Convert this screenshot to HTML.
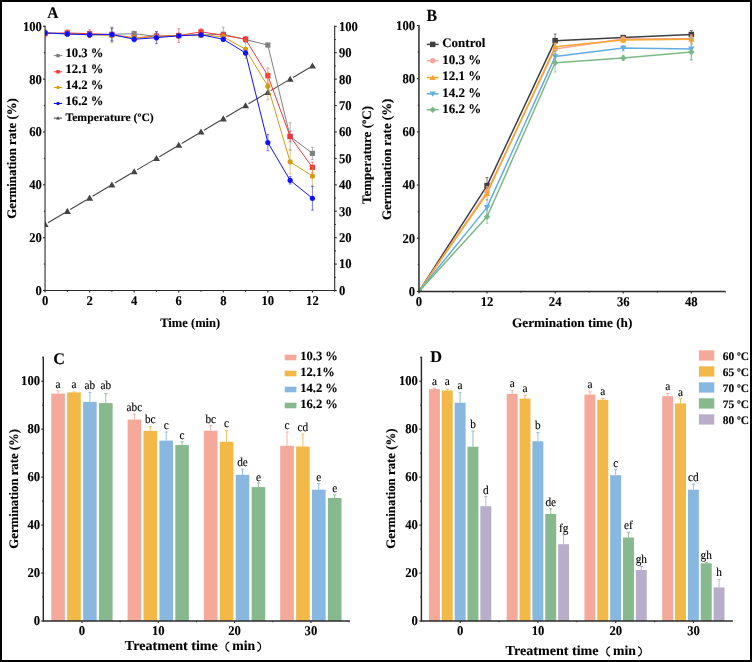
<!DOCTYPE html>
<html><head><meta charset="utf-8"><title>Figure</title>
<style>html,body{margin:0;padding:0;background:#fff;}body{width:752px;height:662px;overflow:hidden;font-family:"Liberation Serif",serif;}</style></head>
<body>
<svg width="752" height="662" viewBox="0 0 752 662" font-family="'Liberation Serif', serif" text-rendering="geometricPrecision" style="display:block;will-change:transform">
<rect x="0" y="0" width="752" height="662" fill="#000"/>
<rect x="2" y="2" width="748" height="658" fill="#fff"/>
<defs><clipPath id="clipA"><rect x="45.05" y="0" width="289.64" height="290.50"/></clipPath></defs>
<g clip-path="url(#clipA)">
<line x1="47.97" y1="222.72" x2="64.41" y2="212.97" stroke="#454545" stroke-width="1.1" />
<line x1="70.25" y1="209.51" x2="86.69" y2="199.76" stroke="#454545" stroke-width="1.1" />
<line x1="92.53" y1="196.30" x2="108.97" y2="186.55" stroke="#454545" stroke-width="1.1" />
<line x1="114.81" y1="183.09" x2="131.25" y2="173.34" stroke="#454545" stroke-width="1.1" />
<line x1="137.09" y1="169.88" x2="153.53" y2="160.13" stroke="#454545" stroke-width="1.1" />
<line x1="159.37" y1="156.67" x2="175.81" y2="146.92" stroke="#454545" stroke-width="1.1" />
<line x1="181.65" y1="143.46" x2="198.09" y2="133.71" stroke="#454545" stroke-width="1.1" />
<line x1="203.93" y1="130.25" x2="220.37" y2="120.50" stroke="#454545" stroke-width="1.1" />
<line x1="226.21" y1="117.04" x2="242.65" y2="107.29" stroke="#454545" stroke-width="1.1" />
<line x1="248.49" y1="103.83" x2="264.93" y2="94.08" stroke="#454545" stroke-width="1.1" />
<line x1="270.77" y1="90.62" x2="287.21" y2="80.87" stroke="#454545" stroke-width="1.1" />
<line x1="293.05" y1="77.41" x2="309.49" y2="67.66" stroke="#454545" stroke-width="1.1" />
<polygon points="45.05,221.04 48.61,227.08 41.48,227.08" fill="#454545"/>
<polygon points="67.33,207.83 70.89,213.88 63.77,213.88" fill="#454545"/>
<polygon points="89.61,194.62 93.17,200.66 86.05,200.66" fill="#454545"/>
<polygon points="111.89,181.41 115.45,187.45 108.33,187.45" fill="#454545"/>
<polygon points="134.17,168.20 137.74,174.25 130.61,174.25" fill="#454545"/>
<polygon points="156.45,154.99 160.01,161.03 152.88,161.03" fill="#454545"/>
<polygon points="178.73,141.78 182.30,147.82 175.17,147.82" fill="#454545"/>
<polygon points="201.01,128.57 204.57,134.62 197.44,134.62" fill="#454545"/>
<polygon points="223.29,115.36 226.86,121.41 219.73,121.41" fill="#454545"/>
<polygon points="245.57,102.15 249.13,108.20 242.00,108.20" fill="#454545"/>
<polygon points="267.85,88.94 271.42,94.98 264.29,94.98" fill="#454545"/>
<polygon points="290.13,75.73 293.69,81.78 286.56,81.78" fill="#454545"/>
<polygon points="312.41,62.52 315.98,68.57 308.85,68.57" fill="#454545"/>
<line x1="45.05" y1="31.58" x2="45.05" y2="34.23" stroke="#808080" stroke-width="0.8" stroke-opacity="0.7"/>
<line x1="43.65" y1="31.58" x2="46.45" y2="31.58" stroke="#808080" stroke-width="0.8" stroke-opacity="0.7"/>
<line x1="43.65" y1="34.23" x2="46.45" y2="34.23" stroke="#808080" stroke-width="0.8" stroke-opacity="0.7"/>
<line x1="67.33" y1="32.11" x2="67.33" y2="34.75" stroke="#808080" stroke-width="0.8" stroke-opacity="0.7"/>
<line x1="65.93" y1="32.11" x2="68.73" y2="32.11" stroke="#808080" stroke-width="0.8" stroke-opacity="0.7"/>
<line x1="65.93" y1="34.75" x2="68.73" y2="34.75" stroke="#808080" stroke-width="0.8" stroke-opacity="0.7"/>
<line x1="89.61" y1="32.11" x2="89.61" y2="36.34" stroke="#808080" stroke-width="0.8" stroke-opacity="0.7"/>
<line x1="88.21" y1="32.11" x2="91.01" y2="32.11" stroke="#808080" stroke-width="0.8" stroke-opacity="0.7"/>
<line x1="88.21" y1="36.34" x2="91.01" y2="36.34" stroke="#808080" stroke-width="0.8" stroke-opacity="0.7"/>
<line x1="111.89" y1="27.09" x2="111.89" y2="41.36" stroke="#808080" stroke-width="0.8" stroke-opacity="0.7"/>
<line x1="110.49" y1="27.09" x2="113.29" y2="27.09" stroke="#808080" stroke-width="0.8" stroke-opacity="0.7"/>
<line x1="110.49" y1="41.36" x2="113.29" y2="41.36" stroke="#808080" stroke-width="0.8" stroke-opacity="0.7"/>
<line x1="134.17" y1="31.06" x2="134.17" y2="36.34" stroke="#808080" stroke-width="0.8" stroke-opacity="0.7"/>
<line x1="132.77" y1="31.06" x2="135.57" y2="31.06" stroke="#808080" stroke-width="0.8" stroke-opacity="0.7"/>
<line x1="132.77" y1="36.34" x2="135.57" y2="36.34" stroke="#808080" stroke-width="0.8" stroke-opacity="0.7"/>
<line x1="156.45" y1="33.70" x2="156.45" y2="38.98" stroke="#808080" stroke-width="0.8" stroke-opacity="0.7"/>
<line x1="155.05" y1="33.70" x2="157.85" y2="33.70" stroke="#808080" stroke-width="0.8" stroke-opacity="0.7"/>
<line x1="155.05" y1="38.98" x2="157.85" y2="38.98" stroke="#808080" stroke-width="0.8" stroke-opacity="0.7"/>
<line x1="178.73" y1="32.91" x2="178.73" y2="38.19" stroke="#808080" stroke-width="0.8" stroke-opacity="0.7"/>
<line x1="177.33" y1="32.91" x2="180.13" y2="32.91" stroke="#808080" stroke-width="0.8" stroke-opacity="0.7"/>
<line x1="177.33" y1="38.19" x2="180.13" y2="38.19" stroke="#808080" stroke-width="0.8" stroke-opacity="0.7"/>
<line x1="201.01" y1="32.38" x2="201.01" y2="37.66" stroke="#808080" stroke-width="0.8" stroke-opacity="0.7"/>
<line x1="199.61" y1="32.38" x2="202.41" y2="32.38" stroke="#808080" stroke-width="0.8" stroke-opacity="0.7"/>
<line x1="199.61" y1="37.66" x2="202.41" y2="37.66" stroke="#808080" stroke-width="0.8" stroke-opacity="0.7"/>
<line x1="223.29" y1="27.09" x2="223.29" y2="41.36" stroke="#808080" stroke-width="0.8" stroke-opacity="0.7"/>
<line x1="221.89" y1="27.09" x2="224.69" y2="27.09" stroke="#808080" stroke-width="0.8" stroke-opacity="0.7"/>
<line x1="221.89" y1="41.36" x2="224.69" y2="41.36" stroke="#808080" stroke-width="0.8" stroke-opacity="0.7"/>
<line x1="245.57" y1="36.87" x2="245.57" y2="42.15" stroke="#808080" stroke-width="0.8" stroke-opacity="0.7"/>
<line x1="244.17" y1="36.87" x2="246.97" y2="36.87" stroke="#808080" stroke-width="0.8" stroke-opacity="0.7"/>
<line x1="244.17" y1="42.15" x2="246.97" y2="42.15" stroke="#808080" stroke-width="0.8" stroke-opacity="0.7"/>
<line x1="267.85" y1="43.74" x2="267.85" y2="46.38" stroke="#808080" stroke-width="0.8" stroke-opacity="0.7"/>
<line x1="266.45" y1="43.74" x2="269.25" y2="43.74" stroke="#808080" stroke-width="0.8" stroke-opacity="0.7"/>
<line x1="266.45" y1="46.38" x2="269.25" y2="46.38" stroke="#808080" stroke-width="0.8" stroke-opacity="0.7"/>
<line x1="290.13" y1="122.73" x2="290.13" y2="150.21" stroke="#808080" stroke-width="0.8" stroke-opacity="0.7"/>
<line x1="288.73" y1="122.73" x2="291.53" y2="122.73" stroke="#808080" stroke-width="0.8" stroke-opacity="0.7"/>
<line x1="288.73" y1="150.21" x2="291.53" y2="150.21" stroke="#808080" stroke-width="0.8" stroke-opacity="0.7"/>
<line x1="312.41" y1="147.30" x2="312.41" y2="159.46" stroke="#808080" stroke-width="0.8" stroke-opacity="0.7"/>
<line x1="311.01" y1="147.30" x2="313.81" y2="147.30" stroke="#808080" stroke-width="0.8" stroke-opacity="0.7"/>
<line x1="311.01" y1="159.46" x2="313.81" y2="159.46" stroke="#808080" stroke-width="0.8" stroke-opacity="0.7"/>
<polyline points="45.05,32.91 67.33,33.43 89.61,34.23 111.89,34.23 134.17,33.70 156.45,36.34 178.73,35.55 201.01,35.02 223.29,34.23 245.57,39.51 267.85,45.06 290.13,136.47 312.41,153.38" fill="none" stroke="#808080" stroke-width="1.0" stroke-linejoin="round" />
<rect x="42.45" y="30.31" width="5.20" height="5.20" fill="#808080" />
<rect x="64.73" y="30.83" width="5.20" height="5.20" fill="#808080" />
<rect x="87.01" y="31.63" width="5.20" height="5.20" fill="#808080" />
<rect x="109.29" y="31.63" width="5.20" height="5.20" fill="#808080" />
<rect x="131.57" y="31.10" width="5.20" height="5.20" fill="#808080" />
<rect x="153.85" y="33.74" width="5.20" height="5.20" fill="#808080" />
<rect x="176.13" y="32.95" width="5.20" height="5.20" fill="#808080" />
<rect x="198.41" y="32.42" width="5.20" height="5.20" fill="#808080" />
<rect x="220.69" y="31.63" width="5.20" height="5.20" fill="#808080" />
<rect x="242.97" y="36.91" width="5.20" height="5.20" fill="#808080" />
<rect x="265.25" y="42.46" width="5.20" height="5.20" fill="#808080" />
<rect x="287.53" y="133.87" width="5.20" height="5.20" fill="#808080" />
<rect x="309.81" y="150.78" width="5.20" height="5.20" fill="#808080" />
<line x1="45.05" y1="29.73" x2="45.05" y2="37.66" stroke="#f0383c" stroke-width="0.8" stroke-opacity="0.7"/>
<line x1="43.65" y1="29.73" x2="46.45" y2="29.73" stroke="#f0383c" stroke-width="0.8" stroke-opacity="0.7"/>
<line x1="43.65" y1="37.66" x2="46.45" y2="37.66" stroke="#f0383c" stroke-width="0.8" stroke-opacity="0.7"/>
<line x1="67.33" y1="29.73" x2="67.33" y2="36.08" stroke="#f0383c" stroke-width="0.8" stroke-opacity="0.7"/>
<line x1="65.93" y1="29.73" x2="68.73" y2="29.73" stroke="#f0383c" stroke-width="0.8" stroke-opacity="0.7"/>
<line x1="65.93" y1="36.08" x2="68.73" y2="36.08" stroke="#f0383c" stroke-width="0.8" stroke-opacity="0.7"/>
<line x1="89.61" y1="29.73" x2="89.61" y2="37.66" stroke="#f0383c" stroke-width="0.8" stroke-opacity="0.7"/>
<line x1="88.21" y1="29.73" x2="91.01" y2="29.73" stroke="#f0383c" stroke-width="0.8" stroke-opacity="0.7"/>
<line x1="88.21" y1="37.66" x2="91.01" y2="37.66" stroke="#f0383c" stroke-width="0.8" stroke-opacity="0.7"/>
<line x1="111.89" y1="32.11" x2="111.89" y2="37.40" stroke="#f0383c" stroke-width="0.8" stroke-opacity="0.7"/>
<line x1="110.49" y1="32.11" x2="113.29" y2="32.11" stroke="#f0383c" stroke-width="0.8" stroke-opacity="0.7"/>
<line x1="110.49" y1="37.40" x2="113.29" y2="37.40" stroke="#f0383c" stroke-width="0.8" stroke-opacity="0.7"/>
<line x1="134.17" y1="35.28" x2="134.17" y2="40.57" stroke="#f0383c" stroke-width="0.8" stroke-opacity="0.7"/>
<line x1="132.77" y1="35.28" x2="135.57" y2="35.28" stroke="#f0383c" stroke-width="0.8" stroke-opacity="0.7"/>
<line x1="132.77" y1="40.57" x2="135.57" y2="40.57" stroke="#f0383c" stroke-width="0.8" stroke-opacity="0.7"/>
<line x1="156.45" y1="32.11" x2="156.45" y2="40.04" stroke="#f0383c" stroke-width="0.8" stroke-opacity="0.7"/>
<line x1="155.05" y1="32.11" x2="157.85" y2="32.11" stroke="#f0383c" stroke-width="0.8" stroke-opacity="0.7"/>
<line x1="155.05" y1="40.04" x2="157.85" y2="40.04" stroke="#f0383c" stroke-width="0.8" stroke-opacity="0.7"/>
<line x1="178.73" y1="28.68" x2="178.73" y2="42.42" stroke="#f0383c" stroke-width="0.8" stroke-opacity="0.7"/>
<line x1="177.33" y1="28.68" x2="180.13" y2="28.68" stroke="#f0383c" stroke-width="0.8" stroke-opacity="0.7"/>
<line x1="177.33" y1="42.42" x2="180.13" y2="42.42" stroke="#f0383c" stroke-width="0.8" stroke-opacity="0.7"/>
<line x1="201.01" y1="28.68" x2="201.01" y2="35.02" stroke="#f0383c" stroke-width="0.8" stroke-opacity="0.7"/>
<line x1="199.61" y1="28.68" x2="202.41" y2="28.68" stroke="#f0383c" stroke-width="0.8" stroke-opacity="0.7"/>
<line x1="199.61" y1="35.02" x2="202.41" y2="35.02" stroke="#f0383c" stroke-width="0.8" stroke-opacity="0.7"/>
<line x1="223.29" y1="32.64" x2="223.29" y2="37.92" stroke="#f0383c" stroke-width="0.8" stroke-opacity="0.7"/>
<line x1="221.89" y1="32.64" x2="224.69" y2="32.64" stroke="#f0383c" stroke-width="0.8" stroke-opacity="0.7"/>
<line x1="221.89" y1="37.92" x2="224.69" y2="37.92" stroke="#f0383c" stroke-width="0.8" stroke-opacity="0.7"/>
<line x1="245.57" y1="36.60" x2="245.57" y2="41.89" stroke="#f0383c" stroke-width="0.8" stroke-opacity="0.7"/>
<line x1="244.17" y1="36.60" x2="246.97" y2="36.60" stroke="#f0383c" stroke-width="0.8" stroke-opacity="0.7"/>
<line x1="244.17" y1="41.89" x2="246.97" y2="41.89" stroke="#f0383c" stroke-width="0.8" stroke-opacity="0.7"/>
<line x1="267.85" y1="68.04" x2="267.85" y2="83.37" stroke="#f0383c" stroke-width="0.8" stroke-opacity="0.7"/>
<line x1="266.45" y1="68.04" x2="269.25" y2="68.04" stroke="#f0383c" stroke-width="0.8" stroke-opacity="0.7"/>
<line x1="266.45" y1="83.37" x2="269.25" y2="83.37" stroke="#f0383c" stroke-width="0.8" stroke-opacity="0.7"/>
<line x1="290.13" y1="131.19" x2="290.13" y2="141.76" stroke="#f0383c" stroke-width="0.8" stroke-opacity="0.7"/>
<line x1="288.73" y1="131.19" x2="291.53" y2="131.19" stroke="#f0383c" stroke-width="0.8" stroke-opacity="0.7"/>
<line x1="288.73" y1="141.76" x2="291.53" y2="141.76" stroke="#f0383c" stroke-width="0.8" stroke-opacity="0.7"/>
<line x1="312.41" y1="162.10" x2="312.41" y2="172.67" stroke="#f0383c" stroke-width="0.8" stroke-opacity="0.7"/>
<line x1="311.01" y1="162.10" x2="313.81" y2="162.10" stroke="#f0383c" stroke-width="0.8" stroke-opacity="0.7"/>
<line x1="311.01" y1="172.67" x2="313.81" y2="172.67" stroke="#f0383c" stroke-width="0.8" stroke-opacity="0.7"/>
<polyline points="45.05,33.70 67.33,32.91 89.61,33.70 111.89,34.75 134.17,37.92 156.45,36.08 178.73,35.55 201.01,31.85 223.29,35.28 245.57,39.25 267.85,75.71 290.13,136.47 312.41,167.38" fill="none" stroke="#f0383c" stroke-width="1.0" stroke-linejoin="round" />
<rect x="42.45" y="31.10" width="5.20" height="5.20" fill="#f0383c" />
<rect x="64.73" y="30.31" width="5.20" height="5.20" fill="#f0383c" />
<rect x="87.01" y="31.10" width="5.20" height="5.20" fill="#f0383c" />
<rect x="109.29" y="32.15" width="5.20" height="5.20" fill="#f0383c" />
<rect x="131.57" y="35.32" width="5.20" height="5.20" fill="#f0383c" />
<rect x="153.85" y="33.48" width="5.20" height="5.20" fill="#f0383c" />
<rect x="176.13" y="32.95" width="5.20" height="5.20" fill="#f0383c" />
<rect x="198.41" y="29.25" width="5.20" height="5.20" fill="#f0383c" />
<rect x="220.69" y="32.68" width="5.20" height="5.20" fill="#f0383c" />
<rect x="242.97" y="36.65" width="5.20" height="5.20" fill="#f0383c" />
<rect x="265.25" y="73.11" width="5.20" height="5.20" fill="#f0383c" />
<rect x="287.53" y="133.87" width="5.20" height="5.20" fill="#f0383c" />
<rect x="309.81" y="164.78" width="5.20" height="5.20" fill="#f0383c" />
<line x1="45.05" y1="31.58" x2="45.05" y2="34.23" stroke="#d49a12" stroke-width="0.8" stroke-opacity="0.7"/>
<line x1="43.65" y1="31.58" x2="46.45" y2="31.58" stroke="#d49a12" stroke-width="0.8" stroke-opacity="0.7"/>
<line x1="43.65" y1="34.23" x2="46.45" y2="34.23" stroke="#d49a12" stroke-width="0.8" stroke-opacity="0.7"/>
<line x1="67.33" y1="32.64" x2="67.33" y2="35.28" stroke="#d49a12" stroke-width="0.8" stroke-opacity="0.7"/>
<line x1="65.93" y1="32.64" x2="68.73" y2="32.64" stroke="#d49a12" stroke-width="0.8" stroke-opacity="0.7"/>
<line x1="65.93" y1="35.28" x2="68.73" y2="35.28" stroke="#d49a12" stroke-width="0.8" stroke-opacity="0.7"/>
<line x1="89.61" y1="32.11" x2="89.61" y2="37.40" stroke="#d49a12" stroke-width="0.8" stroke-opacity="0.7"/>
<line x1="88.21" y1="32.11" x2="91.01" y2="32.11" stroke="#d49a12" stroke-width="0.8" stroke-opacity="0.7"/>
<line x1="88.21" y1="37.40" x2="91.01" y2="37.40" stroke="#d49a12" stroke-width="0.8" stroke-opacity="0.7"/>
<line x1="111.89" y1="27.89" x2="111.89" y2="42.68" stroke="#d49a12" stroke-width="0.8" stroke-opacity="0.7"/>
<line x1="110.49" y1="27.89" x2="113.29" y2="27.89" stroke="#d49a12" stroke-width="0.8" stroke-opacity="0.7"/>
<line x1="110.49" y1="42.68" x2="113.29" y2="42.68" stroke="#d49a12" stroke-width="0.8" stroke-opacity="0.7"/>
<line x1="134.17" y1="35.28" x2="134.17" y2="40.57" stroke="#d49a12" stroke-width="0.8" stroke-opacity="0.7"/>
<line x1="132.77" y1="35.28" x2="135.57" y2="35.28" stroke="#d49a12" stroke-width="0.8" stroke-opacity="0.7"/>
<line x1="132.77" y1="40.57" x2="135.57" y2="40.57" stroke="#d49a12" stroke-width="0.8" stroke-opacity="0.7"/>
<line x1="156.45" y1="33.96" x2="156.45" y2="39.25" stroke="#d49a12" stroke-width="0.8" stroke-opacity="0.7"/>
<line x1="155.05" y1="33.96" x2="157.85" y2="33.96" stroke="#d49a12" stroke-width="0.8" stroke-opacity="0.7"/>
<line x1="155.05" y1="39.25" x2="157.85" y2="39.25" stroke="#d49a12" stroke-width="0.8" stroke-opacity="0.7"/>
<line x1="178.73" y1="34.23" x2="178.73" y2="36.87" stroke="#d49a12" stroke-width="0.8" stroke-opacity="0.7"/>
<line x1="177.33" y1="34.23" x2="180.13" y2="34.23" stroke="#d49a12" stroke-width="0.8" stroke-opacity="0.7"/>
<line x1="177.33" y1="36.87" x2="180.13" y2="36.87" stroke="#d49a12" stroke-width="0.8" stroke-opacity="0.7"/>
<line x1="201.01" y1="32.11" x2="201.01" y2="37.40" stroke="#d49a12" stroke-width="0.8" stroke-opacity="0.7"/>
<line x1="199.61" y1="32.11" x2="202.41" y2="32.11" stroke="#d49a12" stroke-width="0.8" stroke-opacity="0.7"/>
<line x1="199.61" y1="37.40" x2="202.41" y2="37.40" stroke="#d49a12" stroke-width="0.8" stroke-opacity="0.7"/>
<line x1="223.29" y1="34.23" x2="223.29" y2="39.51" stroke="#d49a12" stroke-width="0.8" stroke-opacity="0.7"/>
<line x1="221.89" y1="34.23" x2="224.69" y2="34.23" stroke="#d49a12" stroke-width="0.8" stroke-opacity="0.7"/>
<line x1="221.89" y1="39.51" x2="224.69" y2="39.51" stroke="#d49a12" stroke-width="0.8" stroke-opacity="0.7"/>
<line x1="245.57" y1="40.04" x2="245.57" y2="58.53" stroke="#d49a12" stroke-width="0.8" stroke-opacity="0.7"/>
<line x1="244.17" y1="40.04" x2="246.97" y2="40.04" stroke="#d49a12" stroke-width="0.8" stroke-opacity="0.7"/>
<line x1="244.17" y1="58.53" x2="246.97" y2="58.53" stroke="#d49a12" stroke-width="0.8" stroke-opacity="0.7"/>
<line x1="267.85" y1="72.80" x2="267.85" y2="99.75" stroke="#d49a12" stroke-width="0.8" stroke-opacity="0.7"/>
<line x1="266.45" y1="72.80" x2="269.25" y2="72.80" stroke="#d49a12" stroke-width="0.8" stroke-opacity="0.7"/>
<line x1="266.45" y1="99.75" x2="269.25" y2="99.75" stroke="#d49a12" stroke-width="0.8" stroke-opacity="0.7"/>
<line x1="290.13" y1="149.68" x2="290.13" y2="173.99" stroke="#d49a12" stroke-width="0.8" stroke-opacity="0.7"/>
<line x1="288.73" y1="149.68" x2="291.53" y2="149.68" stroke="#d49a12" stroke-width="0.8" stroke-opacity="0.7"/>
<line x1="288.73" y1="173.99" x2="291.53" y2="173.99" stroke="#d49a12" stroke-width="0.8" stroke-opacity="0.7"/>
<line x1="312.41" y1="166.59" x2="312.41" y2="185.61" stroke="#d49a12" stroke-width="0.8" stroke-opacity="0.7"/>
<line x1="311.01" y1="166.59" x2="313.81" y2="166.59" stroke="#d49a12" stroke-width="0.8" stroke-opacity="0.7"/>
<line x1="311.01" y1="185.61" x2="313.81" y2="185.61" stroke="#d49a12" stroke-width="0.8" stroke-opacity="0.7"/>
<polyline points="45.05,32.91 67.33,33.96 89.61,34.75 111.89,35.28 134.17,37.92 156.45,36.60 178.73,35.55 201.01,34.75 223.29,36.87 245.57,49.29 267.85,86.27 290.13,161.83 312.41,176.10" fill="none" stroke="#d49a12" stroke-width="1.0" stroke-linejoin="round" />
<circle cx="45.05" cy="32.91" r="2.60" fill="#d49a12"/>
<circle cx="67.33" cy="33.96" r="2.60" fill="#d49a12"/>
<circle cx="89.61" cy="34.75" r="2.60" fill="#d49a12"/>
<circle cx="111.89" cy="35.28" r="2.60" fill="#d49a12"/>
<circle cx="134.17" cy="37.92" r="2.60" fill="#d49a12"/>
<circle cx="156.45" cy="36.60" r="2.60" fill="#d49a12"/>
<circle cx="178.73" cy="35.55" r="2.60" fill="#d49a12"/>
<circle cx="201.01" cy="34.75" r="2.60" fill="#d49a12"/>
<circle cx="223.29" cy="36.87" r="2.60" fill="#d49a12"/>
<circle cx="245.57" cy="49.29" r="2.60" fill="#d49a12"/>
<circle cx="267.85" cy="86.27" r="2.60" fill="#d49a12"/>
<circle cx="290.13" cy="161.83" r="2.60" fill="#d49a12"/>
<circle cx="312.41" cy="176.10" r="2.60" fill="#d49a12"/>
<line x1="45.05" y1="31.58" x2="45.05" y2="34.23" stroke="#1010ff" stroke-width="0.8" stroke-opacity="0.7"/>
<line x1="43.65" y1="31.58" x2="46.45" y2="31.58" stroke="#1010ff" stroke-width="0.8" stroke-opacity="0.7"/>
<line x1="43.65" y1="34.23" x2="46.45" y2="34.23" stroke="#1010ff" stroke-width="0.8" stroke-opacity="0.7"/>
<line x1="67.33" y1="31.85" x2="67.33" y2="36.08" stroke="#1010ff" stroke-width="0.8" stroke-opacity="0.7"/>
<line x1="65.93" y1="31.85" x2="68.73" y2="31.85" stroke="#1010ff" stroke-width="0.8" stroke-opacity="0.7"/>
<line x1="65.93" y1="36.08" x2="68.73" y2="36.08" stroke="#1010ff" stroke-width="0.8" stroke-opacity="0.7"/>
<line x1="89.61" y1="32.11" x2="89.61" y2="37.40" stroke="#1010ff" stroke-width="0.8" stroke-opacity="0.7"/>
<line x1="88.21" y1="32.11" x2="91.01" y2="32.11" stroke="#1010ff" stroke-width="0.8" stroke-opacity="0.7"/>
<line x1="88.21" y1="37.40" x2="91.01" y2="37.40" stroke="#1010ff" stroke-width="0.8" stroke-opacity="0.7"/>
<line x1="111.89" y1="28.15" x2="111.89" y2="40.83" stroke="#1010ff" stroke-width="0.8" stroke-opacity="0.7"/>
<line x1="110.49" y1="28.15" x2="113.29" y2="28.15" stroke="#1010ff" stroke-width="0.8" stroke-opacity="0.7"/>
<line x1="110.49" y1="40.83" x2="113.29" y2="40.83" stroke="#1010ff" stroke-width="0.8" stroke-opacity="0.7"/>
<line x1="134.17" y1="36.60" x2="134.17" y2="41.89" stroke="#1010ff" stroke-width="0.8" stroke-opacity="0.7"/>
<line x1="132.77" y1="36.60" x2="135.57" y2="36.60" stroke="#1010ff" stroke-width="0.8" stroke-opacity="0.7"/>
<line x1="132.77" y1="41.89" x2="135.57" y2="41.89" stroke="#1010ff" stroke-width="0.8" stroke-opacity="0.7"/>
<line x1="156.45" y1="31.58" x2="156.45" y2="43.74" stroke="#1010ff" stroke-width="0.8" stroke-opacity="0.7"/>
<line x1="155.05" y1="31.58" x2="157.85" y2="31.58" stroke="#1010ff" stroke-width="0.8" stroke-opacity="0.7"/>
<line x1="155.05" y1="43.74" x2="157.85" y2="43.74" stroke="#1010ff" stroke-width="0.8" stroke-opacity="0.7"/>
<line x1="178.73" y1="34.49" x2="178.73" y2="37.13" stroke="#1010ff" stroke-width="0.8" stroke-opacity="0.7"/>
<line x1="177.33" y1="34.49" x2="180.13" y2="34.49" stroke="#1010ff" stroke-width="0.8" stroke-opacity="0.7"/>
<line x1="177.33" y1="37.13" x2="180.13" y2="37.13" stroke="#1010ff" stroke-width="0.8" stroke-opacity="0.7"/>
<line x1="201.01" y1="32.64" x2="201.01" y2="36.87" stroke="#1010ff" stroke-width="0.8" stroke-opacity="0.7"/>
<line x1="199.61" y1="32.64" x2="202.41" y2="32.64" stroke="#1010ff" stroke-width="0.8" stroke-opacity="0.7"/>
<line x1="199.61" y1="36.87" x2="202.41" y2="36.87" stroke="#1010ff" stroke-width="0.8" stroke-opacity="0.7"/>
<line x1="223.29" y1="37.13" x2="223.29" y2="41.36" stroke="#1010ff" stroke-width="0.8" stroke-opacity="0.7"/>
<line x1="221.89" y1="37.13" x2="224.69" y2="37.13" stroke="#1010ff" stroke-width="0.8" stroke-opacity="0.7"/>
<line x1="221.89" y1="41.36" x2="224.69" y2="41.36" stroke="#1010ff" stroke-width="0.8" stroke-opacity="0.7"/>
<line x1="245.57" y1="50.87" x2="245.57" y2="55.10" stroke="#1010ff" stroke-width="0.8" stroke-opacity="0.7"/>
<line x1="244.17" y1="50.87" x2="246.97" y2="50.87" stroke="#1010ff" stroke-width="0.8" stroke-opacity="0.7"/>
<line x1="244.17" y1="55.10" x2="246.97" y2="55.10" stroke="#1010ff" stroke-width="0.8" stroke-opacity="0.7"/>
<line x1="267.85" y1="134.36" x2="267.85" y2="150.74" stroke="#1010ff" stroke-width="0.8" stroke-opacity="0.7"/>
<line x1="266.45" y1="134.36" x2="269.25" y2="134.36" stroke="#1010ff" stroke-width="0.8" stroke-opacity="0.7"/>
<line x1="266.45" y1="150.74" x2="269.25" y2="150.74" stroke="#1010ff" stroke-width="0.8" stroke-opacity="0.7"/>
<line x1="290.13" y1="176.63" x2="290.13" y2="184.03" stroke="#1010ff" stroke-width="0.8" stroke-opacity="0.7"/>
<line x1="288.73" y1="176.63" x2="291.53" y2="176.63" stroke="#1010ff" stroke-width="0.8" stroke-opacity="0.7"/>
<line x1="288.73" y1="184.03" x2="291.53" y2="184.03" stroke="#1010ff" stroke-width="0.8" stroke-opacity="0.7"/>
<line x1="312.41" y1="186.41" x2="312.41" y2="210.18" stroke="#1010ff" stroke-width="0.8" stroke-opacity="0.7"/>
<line x1="311.01" y1="186.41" x2="313.81" y2="186.41" stroke="#1010ff" stroke-width="0.8" stroke-opacity="0.7"/>
<line x1="311.01" y1="210.18" x2="313.81" y2="210.18" stroke="#1010ff" stroke-width="0.8" stroke-opacity="0.7"/>
<polyline points="45.05,32.91 67.33,33.96 89.61,34.75 111.89,34.49 134.17,39.25 156.45,37.66 178.73,35.81 201.01,34.75 223.29,39.25 245.57,52.98 267.85,142.55 290.13,180.33 312.41,198.29" fill="none" stroke="#1010ff" stroke-width="1.0" stroke-linejoin="round" />
<circle cx="45.05" cy="32.91" r="2.60" fill="#1010ff"/>
<circle cx="67.33" cy="33.96" r="2.60" fill="#1010ff"/>
<circle cx="89.61" cy="34.75" r="2.60" fill="#1010ff"/>
<circle cx="111.89" cy="34.49" r="2.60" fill="#1010ff"/>
<circle cx="134.17" cy="39.25" r="2.60" fill="#1010ff"/>
<circle cx="156.45" cy="37.66" r="2.60" fill="#1010ff"/>
<circle cx="178.73" cy="35.81" r="2.60" fill="#1010ff"/>
<circle cx="201.01" cy="34.75" r="2.60" fill="#1010ff"/>
<circle cx="223.29" cy="39.25" r="2.60" fill="#1010ff"/>
<circle cx="245.57" cy="52.98" r="2.60" fill="#1010ff"/>
<circle cx="267.85" cy="142.55" r="2.60" fill="#1010ff"/>
<circle cx="290.13" cy="180.33" r="2.60" fill="#1010ff"/>
<circle cx="312.41" cy="198.29" r="2.60" fill="#1010ff"/>
</g>
<line x1="45.05" y1="25.80" x2="45.05" y2="291.05" stroke="#2a2a2a" stroke-width="1.1" />
<line x1="45.05" y1="290.50" x2="334.69" y2="290.50" stroke="#2a2a2a" stroke-width="1.1" />
<line x1="334.69" y1="25.80" x2="334.69" y2="291.05" stroke="#2a2a2a" stroke-width="1.1" />
<line x1="42.95" y1="290.50" x2="45.05" y2="290.50" stroke="#2a2a2a" stroke-width="1.1" />
<text transform="translate(41.90 294.90) scale(0.945 1)" font-size="13.4" font-weight="bold" text-anchor="end" fill="#000" stroke="#000" stroke-width="0.12" >0</text>
<line x1="43.85" y1="264.08" x2="45.05" y2="264.08" stroke="#2a2a2a" stroke-width="1.1" />
<line x1="42.95" y1="237.66" x2="45.05" y2="237.66" stroke="#2a2a2a" stroke-width="1.1" />
<text transform="translate(41.90 242.06) scale(0.945 1)" font-size="13.4" font-weight="bold" text-anchor="end" fill="#000" stroke="#000" stroke-width="0.12" >20</text>
<line x1="43.85" y1="211.24" x2="45.05" y2="211.24" stroke="#2a2a2a" stroke-width="1.1" />
<line x1="42.95" y1="184.82" x2="45.05" y2="184.82" stroke="#2a2a2a" stroke-width="1.1" />
<text transform="translate(41.90 189.22) scale(0.945 1)" font-size="13.4" font-weight="bold" text-anchor="end" fill="#000" stroke="#000" stroke-width="0.12" >40</text>
<line x1="43.85" y1="158.40" x2="45.05" y2="158.40" stroke="#2a2a2a" stroke-width="1.1" />
<line x1="42.95" y1="131.98" x2="45.05" y2="131.98" stroke="#2a2a2a" stroke-width="1.1" />
<text transform="translate(41.90 136.38) scale(0.945 1)" font-size="13.4" font-weight="bold" text-anchor="end" fill="#000" stroke="#000" stroke-width="0.12" >60</text>
<line x1="43.85" y1="105.56" x2="45.05" y2="105.56" stroke="#2a2a2a" stroke-width="1.1" />
<line x1="42.95" y1="79.14" x2="45.05" y2="79.14" stroke="#2a2a2a" stroke-width="1.1" />
<text transform="translate(41.90 83.54) scale(0.945 1)" font-size="13.4" font-weight="bold" text-anchor="end" fill="#000" stroke="#000" stroke-width="0.12" >80</text>
<line x1="43.85" y1="52.72" x2="45.05" y2="52.72" stroke="#2a2a2a" stroke-width="1.1" />
<line x1="42.95" y1="26.30" x2="45.05" y2="26.30" stroke="#2a2a2a" stroke-width="1.1" />
<text transform="translate(41.90 30.70) scale(0.945 1)" font-size="13.4" font-weight="bold" text-anchor="end" fill="#000" stroke="#000" stroke-width="0.12" >100</text>
<line x1="334.69" y1="290.50" x2="336.79" y2="290.50" stroke="#2a2a2a" stroke-width="1.1" />
<text transform="translate(338.90 294.90) scale(0.945 1)" font-size="13.4" font-weight="bold" text-anchor="start" fill="#000" stroke="#000" stroke-width="0.12" >0</text>
<line x1="334.69" y1="277.29" x2="335.89" y2="277.29" stroke="#2a2a2a" stroke-width="1.1" />
<line x1="334.69" y1="264.08" x2="336.79" y2="264.08" stroke="#2a2a2a" stroke-width="1.1" />
<text transform="translate(338.90 268.48) scale(0.945 1)" font-size="13.4" font-weight="bold" text-anchor="start" fill="#000" stroke="#000" stroke-width="0.12" >10</text>
<line x1="334.69" y1="250.87" x2="335.89" y2="250.87" stroke="#2a2a2a" stroke-width="1.1" />
<line x1="334.69" y1="237.66" x2="336.79" y2="237.66" stroke="#2a2a2a" stroke-width="1.1" />
<text transform="translate(338.90 242.06) scale(0.945 1)" font-size="13.4" font-weight="bold" text-anchor="start" fill="#000" stroke="#000" stroke-width="0.12" >20</text>
<line x1="334.69" y1="224.45" x2="335.89" y2="224.45" stroke="#2a2a2a" stroke-width="1.1" />
<line x1="334.69" y1="211.24" x2="336.79" y2="211.24" stroke="#2a2a2a" stroke-width="1.1" />
<text transform="translate(338.90 215.64) scale(0.945 1)" font-size="13.4" font-weight="bold" text-anchor="start" fill="#000" stroke="#000" stroke-width="0.12" >30</text>
<line x1="334.69" y1="198.03" x2="335.89" y2="198.03" stroke="#2a2a2a" stroke-width="1.1" />
<line x1="334.69" y1="184.82" x2="336.79" y2="184.82" stroke="#2a2a2a" stroke-width="1.1" />
<text transform="translate(338.90 189.22) scale(0.945 1)" font-size="13.4" font-weight="bold" text-anchor="start" fill="#000" stroke="#000" stroke-width="0.12" >40</text>
<line x1="334.69" y1="171.61" x2="335.89" y2="171.61" stroke="#2a2a2a" stroke-width="1.1" />
<line x1="334.69" y1="158.40" x2="336.79" y2="158.40" stroke="#2a2a2a" stroke-width="1.1" />
<text transform="translate(338.90 162.80) scale(0.945 1)" font-size="13.4" font-weight="bold" text-anchor="start" fill="#000" stroke="#000" stroke-width="0.12" >50</text>
<line x1="334.69" y1="145.19" x2="335.89" y2="145.19" stroke="#2a2a2a" stroke-width="1.1" />
<line x1="334.69" y1="131.98" x2="336.79" y2="131.98" stroke="#2a2a2a" stroke-width="1.1" />
<text transform="translate(338.90 136.38) scale(0.945 1)" font-size="13.4" font-weight="bold" text-anchor="start" fill="#000" stroke="#000" stroke-width="0.12" >60</text>
<line x1="334.69" y1="118.77" x2="335.89" y2="118.77" stroke="#2a2a2a" stroke-width="1.1" />
<line x1="334.69" y1="105.56" x2="336.79" y2="105.56" stroke="#2a2a2a" stroke-width="1.1" />
<text transform="translate(338.90 109.96) scale(0.945 1)" font-size="13.4" font-weight="bold" text-anchor="start" fill="#000" stroke="#000" stroke-width="0.12" >70</text>
<line x1="334.69" y1="92.35" x2="335.89" y2="92.35" stroke="#2a2a2a" stroke-width="1.1" />
<line x1="334.69" y1="79.14" x2="336.79" y2="79.14" stroke="#2a2a2a" stroke-width="1.1" />
<text transform="translate(338.90 83.54) scale(0.945 1)" font-size="13.4" font-weight="bold" text-anchor="start" fill="#000" stroke="#000" stroke-width="0.12" >80</text>
<line x1="334.69" y1="65.93" x2="335.89" y2="65.93" stroke="#2a2a2a" stroke-width="1.1" />
<line x1="334.69" y1="52.72" x2="336.79" y2="52.72" stroke="#2a2a2a" stroke-width="1.1" />
<text transform="translate(338.90 57.12) scale(0.945 1)" font-size="13.4" font-weight="bold" text-anchor="start" fill="#000" stroke="#000" stroke-width="0.12" >90</text>
<line x1="334.69" y1="39.51" x2="335.89" y2="39.51" stroke="#2a2a2a" stroke-width="1.1" />
<line x1="334.69" y1="26.30" x2="336.79" y2="26.30" stroke="#2a2a2a" stroke-width="1.1" />
<text transform="translate(338.90 30.70) scale(0.945 1)" font-size="13.4" font-weight="bold" text-anchor="start" fill="#000" stroke="#000" stroke-width="0.12" >100</text>
<line x1="45.05" y1="290.50" x2="45.05" y2="292.60" stroke="#2a2a2a" stroke-width="1.1" />
<text transform="translate(45.05 304.90) scale(0.945 1)" font-size="13.4" font-weight="bold" text-anchor="middle" fill="#000" stroke="#000" stroke-width="0.12" >0</text>
<line x1="67.33" y1="290.50" x2="67.33" y2="291.70" stroke="#2a2a2a" stroke-width="1.1" />
<line x1="89.61" y1="290.50" x2="89.61" y2="292.60" stroke="#2a2a2a" stroke-width="1.1" />
<text transform="translate(89.61 304.90) scale(0.945 1)" font-size="13.4" font-weight="bold" text-anchor="middle" fill="#000" stroke="#000" stroke-width="0.12" >2</text>
<line x1="111.89" y1="290.50" x2="111.89" y2="291.70" stroke="#2a2a2a" stroke-width="1.1" />
<line x1="134.17" y1="290.50" x2="134.17" y2="292.60" stroke="#2a2a2a" stroke-width="1.1" />
<text transform="translate(134.17 304.90) scale(0.945 1)" font-size="13.4" font-weight="bold" text-anchor="middle" fill="#000" stroke="#000" stroke-width="0.12" >4</text>
<line x1="156.45" y1="290.50" x2="156.45" y2="291.70" stroke="#2a2a2a" stroke-width="1.1" />
<line x1="178.73" y1="290.50" x2="178.73" y2="292.60" stroke="#2a2a2a" stroke-width="1.1" />
<text transform="translate(178.73 304.90) scale(0.945 1)" font-size="13.4" font-weight="bold" text-anchor="middle" fill="#000" stroke="#000" stroke-width="0.12" >6</text>
<line x1="201.01" y1="290.50" x2="201.01" y2="291.70" stroke="#2a2a2a" stroke-width="1.1" />
<line x1="223.29" y1="290.50" x2="223.29" y2="292.60" stroke="#2a2a2a" stroke-width="1.1" />
<text transform="translate(223.29 304.90) scale(0.945 1)" font-size="13.4" font-weight="bold" text-anchor="middle" fill="#000" stroke="#000" stroke-width="0.12" >8</text>
<line x1="245.57" y1="290.50" x2="245.57" y2="291.70" stroke="#2a2a2a" stroke-width="1.1" />
<line x1="267.85" y1="290.50" x2="267.85" y2="292.60" stroke="#2a2a2a" stroke-width="1.1" />
<text transform="translate(267.85 304.90) scale(0.945 1)" font-size="13.4" font-weight="bold" text-anchor="middle" fill="#000" stroke="#000" stroke-width="0.12" >10</text>
<line x1="290.13" y1="290.50" x2="290.13" y2="291.70" stroke="#2a2a2a" stroke-width="1.1" />
<line x1="312.41" y1="290.50" x2="312.41" y2="292.60" stroke="#2a2a2a" stroke-width="1.1" />
<text transform="translate(312.41 304.90) scale(0.945 1)" font-size="13.4" font-weight="bold" text-anchor="middle" fill="#000" stroke="#000" stroke-width="0.12" >12</text>
<line x1="334.69" y1="290.50" x2="334.69" y2="291.70" stroke="#2a2a2a" stroke-width="1.1" />
<text transform="translate(16.30 158.50) rotate(-90)" font-size="13" font-weight="bold" text-anchor="middle" fill="#000" stroke="#000" stroke-width="0.12" textLength="120.60" lengthAdjust="spacingAndGlyphs" >Germination rate (%)</text>
<text transform="translate(371.40 155.00) rotate(-90)" font-size="13" font-weight="bold" text-anchor="middle" fill="#000" stroke="#000" stroke-width="0.12" textLength="98.20" lengthAdjust="spacingAndGlyphs" >Temperature (ºC)</text>
<text transform="translate(190.20 326.60)" font-size="13" font-weight="bold" text-anchor="middle" fill="#000" stroke="#000" stroke-width="0.12" textLength="60.00" lengthAdjust="spacingAndGlyphs" >Time (min)</text>
<text transform="translate(47.20 18.10) scale(0.96 1)" font-size="16.2" font-weight="bold" text-anchor="start" fill="#000" stroke="#000" stroke-width="0.12" >A</text>
<line x1="53.80" y1="55.60" x2="62.20" y2="55.60" stroke="#808080" stroke-width="1.0" />
<rect x="56.30" y="53.90" width="3.40" height="3.40" fill="#808080" />
<text transform="translate(65.50 57.10)" font-size="12.9" font-weight="bold" text-anchor="start" fill="#000" stroke="#000" stroke-width="0.12" textLength="37.90" lengthAdjust="spacingAndGlyphs" >10.3 %</text>
<line x1="53.80" y1="71.80" x2="62.20" y2="71.80" stroke="#f0383c" stroke-width="1.0" />
<rect x="56.30" y="70.10" width="3.40" height="3.40" fill="#f0383c" />
<text transform="translate(65.50 73.00)" font-size="12.9" font-weight="bold" text-anchor="start" fill="#000" stroke="#000" stroke-width="0.12" textLength="37.90" lengthAdjust="spacingAndGlyphs" >12.1 %</text>
<line x1="53.80" y1="87.50" x2="62.20" y2="87.50" stroke="#d49a12" stroke-width="1.0" />
<circle cx="58.00" cy="87.50" r="1.70" fill="#d49a12"/>
<text transform="translate(65.50 88.70)" font-size="12.9" font-weight="bold" text-anchor="start" fill="#000" stroke="#000" stroke-width="0.12" textLength="37.90" lengthAdjust="spacingAndGlyphs" >14.2 %</text>
<line x1="53.80" y1="103.50" x2="62.20" y2="103.50" stroke="#1010ff" stroke-width="1.0" />
<circle cx="58.00" cy="103.50" r="1.70" fill="#1010ff"/>
<text transform="translate(65.50 104.60)" font-size="12.9" font-weight="bold" text-anchor="start" fill="#000" stroke="#000" stroke-width="0.12" textLength="37.90" lengthAdjust="spacingAndGlyphs" >16.2 %</text>
<line x1="53.80" y1="118.10" x2="62.20" y2="118.10" stroke="#454545" stroke-width="1.0" />
<polygon points="58.00,116.23 59.95,119.54 56.05,119.54" fill="#454545"/>
<text transform="translate(65.40 121.30)" font-size="11.3" font-weight="bold" text-anchor="start" fill="#000" stroke="#000" stroke-width="0.12" textLength="88.40" lengthAdjust="spacingAndGlyphs" >Temperature (ºC)</text>
<defs><clipPath id="clipB"><rect x="418.95" y="0" width="311.45" height="291.40"/></clipPath></defs>
<g clip-path="url(#clipB)">
<line x1="487.05" y1="177.59" x2="487.05" y2="193.55" stroke="#3f3f3f" stroke-width="0.8" stroke-opacity="0.85"/>
<line x1="485.65" y1="177.59" x2="488.45" y2="177.59" stroke="#3f3f3f" stroke-width="0.8" stroke-opacity="0.85"/>
<line x1="485.65" y1="193.55" x2="488.45" y2="193.55" stroke="#3f3f3f" stroke-width="0.8" stroke-opacity="0.85"/>
<line x1="555.15" y1="34.01" x2="555.15" y2="47.30" stroke="#3f3f3f" stroke-width="0.8" stroke-opacity="0.85"/>
<line x1="553.75" y1="34.01" x2="556.55" y2="34.01" stroke="#3f3f3f" stroke-width="0.8" stroke-opacity="0.85"/>
<line x1="553.75" y1="47.30" x2="556.55" y2="47.30" stroke="#3f3f3f" stroke-width="0.8" stroke-opacity="0.85"/>
<line x1="623.25" y1="35.47" x2="623.25" y2="39.73" stroke="#3f3f3f" stroke-width="0.8" stroke-opacity="0.85"/>
<line x1="621.85" y1="35.47" x2="624.65" y2="35.47" stroke="#3f3f3f" stroke-width="0.8" stroke-opacity="0.85"/>
<line x1="621.85" y1="39.73" x2="624.65" y2="39.73" stroke="#3f3f3f" stroke-width="0.8" stroke-opacity="0.85"/>
<line x1="691.35" y1="30.55" x2="691.35" y2="38.53" stroke="#3f3f3f" stroke-width="0.8" stroke-opacity="0.85"/>
<line x1="689.95" y1="30.55" x2="692.75" y2="30.55" stroke="#3f3f3f" stroke-width="0.8" stroke-opacity="0.85"/>
<line x1="689.95" y1="38.53" x2="692.75" y2="38.53" stroke="#3f3f3f" stroke-width="0.8" stroke-opacity="0.85"/>
<polyline points="418.95,291.40 487.05,185.57 555.15,40.66 623.25,37.60 691.35,34.54" fill="none" stroke="#3f3f3f" stroke-width="1.5" stroke-linejoin="round" />
<rect x="416.20" y="288.65" width="5.50" height="5.50" fill="#3f3f3f" />
<rect x="484.30" y="182.82" width="5.50" height="5.50" fill="#3f3f3f" />
<rect x="552.40" y="37.91" width="5.50" height="5.50" fill="#3f3f3f" />
<rect x="620.50" y="34.85" width="5.50" height="5.50" fill="#3f3f3f" />
<rect x="688.60" y="31.79" width="5.50" height="5.50" fill="#3f3f3f" />
<line x1="487.05" y1="186.37" x2="487.05" y2="197.01" stroke="#f4a79b" stroke-width="0.8" stroke-opacity="0.85"/>
<line x1="485.65" y1="186.37" x2="488.45" y2="186.37" stroke="#f4a79b" stroke-width="0.8" stroke-opacity="0.85"/>
<line x1="485.65" y1="197.01" x2="488.45" y2="197.01" stroke="#f4a79b" stroke-width="0.8" stroke-opacity="0.85"/>
<line x1="555.15" y1="43.58" x2="555.15" y2="54.22" stroke="#f4a79b" stroke-width="0.8" stroke-opacity="0.85"/>
<line x1="553.75" y1="43.58" x2="556.55" y2="43.58" stroke="#f4a79b" stroke-width="0.8" stroke-opacity="0.85"/>
<line x1="553.75" y1="54.22" x2="556.55" y2="54.22" stroke="#f4a79b" stroke-width="0.8" stroke-opacity="0.85"/>
<line x1="623.25" y1="36.40" x2="623.25" y2="41.72" stroke="#f4a79b" stroke-width="0.8" stroke-opacity="0.85"/>
<line x1="621.85" y1="36.40" x2="624.65" y2="36.40" stroke="#f4a79b" stroke-width="0.8" stroke-opacity="0.85"/>
<line x1="621.85" y1="41.72" x2="624.65" y2="41.72" stroke="#f4a79b" stroke-width="0.8" stroke-opacity="0.85"/>
<line x1="691.35" y1="34.81" x2="691.35" y2="42.78" stroke="#f4a79b" stroke-width="0.8" stroke-opacity="0.85"/>
<line x1="689.95" y1="34.81" x2="692.75" y2="34.81" stroke="#f4a79b" stroke-width="0.8" stroke-opacity="0.85"/>
<line x1="689.95" y1="42.78" x2="692.75" y2="42.78" stroke="#f4a79b" stroke-width="0.8" stroke-opacity="0.85"/>
<polyline points="418.95,291.40 487.05,191.69 555.15,48.90 623.25,39.06 691.35,38.79" fill="none" stroke="#f4a79b" stroke-width="1.5" stroke-linejoin="round" />
<circle cx="418.95" cy="291.40" r="2.75" fill="#f4a79b"/>
<circle cx="487.05" cy="191.69" r="2.75" fill="#f4a79b"/>
<circle cx="555.15" cy="48.90" r="2.75" fill="#f4a79b"/>
<circle cx="623.25" cy="39.06" r="2.75" fill="#f4a79b"/>
<circle cx="691.35" cy="38.79" r="2.75" fill="#f4a79b"/>
<line x1="487.05" y1="186.90" x2="487.05" y2="200.20" stroke="#f6a62c" stroke-width="0.8" stroke-opacity="0.85"/>
<line x1="485.65" y1="186.90" x2="488.45" y2="186.90" stroke="#f6a62c" stroke-width="0.8" stroke-opacity="0.85"/>
<line x1="485.65" y1="200.20" x2="488.45" y2="200.20" stroke="#f6a62c" stroke-width="0.8" stroke-opacity="0.85"/>
<line x1="555.15" y1="42.78" x2="555.15" y2="50.76" stroke="#f6a62c" stroke-width="0.8" stroke-opacity="0.85"/>
<line x1="553.75" y1="42.78" x2="556.55" y2="42.78" stroke="#f6a62c" stroke-width="0.8" stroke-opacity="0.85"/>
<line x1="553.75" y1="50.76" x2="556.55" y2="50.76" stroke="#f6a62c" stroke-width="0.8" stroke-opacity="0.85"/>
<line x1="623.25" y1="37.47" x2="623.25" y2="42.78" stroke="#f6a62c" stroke-width="0.8" stroke-opacity="0.85"/>
<line x1="621.85" y1="37.47" x2="624.65" y2="37.47" stroke="#f6a62c" stroke-width="0.8" stroke-opacity="0.85"/>
<line x1="621.85" y1="42.78" x2="624.65" y2="42.78" stroke="#f6a62c" stroke-width="0.8" stroke-opacity="0.85"/>
<line x1="691.35" y1="35.34" x2="691.35" y2="43.32" stroke="#f6a62c" stroke-width="0.8" stroke-opacity="0.85"/>
<line x1="689.95" y1="35.34" x2="692.75" y2="35.34" stroke="#f6a62c" stroke-width="0.8" stroke-opacity="0.85"/>
<line x1="689.95" y1="43.32" x2="692.75" y2="43.32" stroke="#f6a62c" stroke-width="0.8" stroke-opacity="0.85"/>
<polyline points="418.95,291.40 487.05,193.55 555.15,46.77 623.25,40.12 691.35,39.33" fill="none" stroke="#f6a62c" stroke-width="1.5" stroke-linejoin="round" />
<polygon points="418.95,288.38 422.11,293.74 415.79,293.74" fill="#f6a62c"/>
<polygon points="487.05,190.52 490.21,195.89 483.89,195.89" fill="#f6a62c"/>
<polygon points="555.15,43.75 558.31,49.11 551.99,49.11" fill="#f6a62c"/>
<polygon points="623.25,37.10 626.41,42.46 620.09,42.46" fill="#f6a62c"/>
<polygon points="691.35,36.30 694.51,41.66 688.19,41.66" fill="#f6a62c"/>
<line x1="487.05" y1="199.40" x2="487.05" y2="215.35" stroke="#62ade2" stroke-width="0.8" stroke-opacity="0.85"/>
<line x1="485.65" y1="199.40" x2="488.45" y2="199.40" stroke="#62ade2" stroke-width="0.8" stroke-opacity="0.85"/>
<line x1="485.65" y1="215.35" x2="488.45" y2="215.35" stroke="#62ade2" stroke-width="0.8" stroke-opacity="0.85"/>
<line x1="555.15" y1="51.29" x2="555.15" y2="61.93" stroke="#62ade2" stroke-width="0.8" stroke-opacity="0.85"/>
<line x1="553.75" y1="51.29" x2="556.55" y2="51.29" stroke="#62ade2" stroke-width="0.8" stroke-opacity="0.85"/>
<line x1="553.75" y1="61.93" x2="556.55" y2="61.93" stroke="#62ade2" stroke-width="0.8" stroke-opacity="0.85"/>
<line x1="623.25" y1="45.44" x2="623.25" y2="50.76" stroke="#62ade2" stroke-width="0.8" stroke-opacity="0.85"/>
<line x1="621.85" y1="45.44" x2="624.65" y2="45.44" stroke="#62ade2" stroke-width="0.8" stroke-opacity="0.85"/>
<line x1="621.85" y1="50.76" x2="624.65" y2="50.76" stroke="#62ade2" stroke-width="0.8" stroke-opacity="0.85"/>
<line x1="691.35" y1="38.26" x2="691.35" y2="59.54" stroke="#62ade2" stroke-width="0.8" stroke-opacity="0.85"/>
<line x1="689.95" y1="38.26" x2="692.75" y2="38.26" stroke="#62ade2" stroke-width="0.8" stroke-opacity="0.85"/>
<line x1="689.95" y1="59.54" x2="692.75" y2="59.54" stroke="#62ade2" stroke-width="0.8" stroke-opacity="0.85"/>
<polyline points="418.95,291.40 487.05,207.38 555.15,56.61 623.25,48.10 691.35,48.90" fill="none" stroke="#62ade2" stroke-width="1.5" stroke-linejoin="round" />
<polygon points="418.95,294.42 422.11,289.06 415.79,289.06" fill="#62ade2"/>
<polygon points="487.05,210.40 490.21,205.04 483.89,205.04" fill="#62ade2"/>
<polygon points="555.15,59.64 558.31,54.27 551.99,54.27" fill="#62ade2"/>
<polygon points="623.25,51.13 626.41,45.76 620.09,45.76" fill="#62ade2"/>
<polygon points="691.35,51.92 694.51,46.56 688.19,46.56" fill="#62ade2"/>
<line x1="487.05" y1="210.03" x2="487.05" y2="223.33" stroke="#7db986" stroke-width="0.8" stroke-opacity="0.85"/>
<line x1="485.65" y1="210.03" x2="488.45" y2="210.03" stroke="#7db986" stroke-width="0.8" stroke-opacity="0.85"/>
<line x1="485.65" y1="223.33" x2="488.45" y2="223.33" stroke="#7db986" stroke-width="0.8" stroke-opacity="0.85"/>
<line x1="555.15" y1="53.42" x2="555.15" y2="72.03" stroke="#7db986" stroke-width="0.8" stroke-opacity="0.85"/>
<line x1="553.75" y1="53.42" x2="556.55" y2="53.42" stroke="#7db986" stroke-width="0.8" stroke-opacity="0.85"/>
<line x1="553.75" y1="72.03" x2="556.55" y2="72.03" stroke="#7db986" stroke-width="0.8" stroke-opacity="0.85"/>
<line x1="623.25" y1="55.28" x2="623.25" y2="60.60" stroke="#7db986" stroke-width="0.8" stroke-opacity="0.85"/>
<line x1="621.85" y1="55.28" x2="624.65" y2="55.28" stroke="#7db986" stroke-width="0.8" stroke-opacity="0.85"/>
<line x1="621.85" y1="60.60" x2="624.65" y2="60.60" stroke="#7db986" stroke-width="0.8" stroke-opacity="0.85"/>
<line x1="691.35" y1="44.11" x2="691.35" y2="60.07" stroke="#7db986" stroke-width="0.8" stroke-opacity="0.85"/>
<line x1="689.95" y1="44.11" x2="692.75" y2="44.11" stroke="#7db986" stroke-width="0.8" stroke-opacity="0.85"/>
<line x1="689.95" y1="60.07" x2="692.75" y2="60.07" stroke="#7db986" stroke-width="0.8" stroke-opacity="0.85"/>
<polyline points="418.95,291.40 487.05,216.68 555.15,62.73 623.25,57.94 691.35,52.09" fill="none" stroke="#7db986" stroke-width="1.5" stroke-linejoin="round" />
<polygon points="418.95,288.10 422.25,291.40 418.95,294.70 415.65,291.40" fill="#7db986"/>
<polygon points="487.05,213.38 490.35,216.68 487.05,219.98 483.75,216.68" fill="#7db986"/>
<polygon points="555.15,59.43 558.45,62.73 555.15,66.03 551.85,62.73" fill="#7db986"/>
<polygon points="623.25,54.64 626.55,57.94 623.25,61.24 619.95,57.94" fill="#7db986"/>
<polygon points="691.35,48.79 694.65,52.09 691.35,55.39 688.05,52.09" fill="#7db986"/>
</g>
<line x1="418.95" y1="24.90" x2="418.95" y2="292.15" stroke="#2a2a2a" stroke-width="1.5" />
<line x1="418.95" y1="291.40" x2="725.40" y2="291.40" stroke="#2a2a2a" stroke-width="1.5" />
<line x1="416.85" y1="291.40" x2="418.95" y2="291.40" stroke="#2a2a2a" stroke-width="1.1" />
<text transform="translate(415.10 295.80) scale(0.945 1)" font-size="13.4" font-weight="bold" text-anchor="end" fill="#000" stroke="#000" stroke-width="0.12" >0</text>
<line x1="417.75" y1="264.81" x2="418.95" y2="264.81" stroke="#2a2a2a" stroke-width="1.1" />
<line x1="416.85" y1="238.22" x2="418.95" y2="238.22" stroke="#2a2a2a" stroke-width="1.1" />
<text transform="translate(415.10 242.62) scale(0.945 1)" font-size="13.4" font-weight="bold" text-anchor="end" fill="#000" stroke="#000" stroke-width="0.12" >20</text>
<line x1="417.75" y1="211.63" x2="418.95" y2="211.63" stroke="#2a2a2a" stroke-width="1.1" />
<line x1="416.85" y1="185.04" x2="418.95" y2="185.04" stroke="#2a2a2a" stroke-width="1.1" />
<text transform="translate(415.10 189.44) scale(0.945 1)" font-size="13.4" font-weight="bold" text-anchor="end" fill="#000" stroke="#000" stroke-width="0.12" >40</text>
<line x1="417.75" y1="158.45" x2="418.95" y2="158.45" stroke="#2a2a2a" stroke-width="1.1" />
<line x1="416.85" y1="131.86" x2="418.95" y2="131.86" stroke="#2a2a2a" stroke-width="1.1" />
<text transform="translate(415.10 136.26) scale(0.945 1)" font-size="13.4" font-weight="bold" text-anchor="end" fill="#000" stroke="#000" stroke-width="0.12" >60</text>
<line x1="417.75" y1="105.27" x2="418.95" y2="105.27" stroke="#2a2a2a" stroke-width="1.1" />
<line x1="416.85" y1="78.68" x2="418.95" y2="78.68" stroke="#2a2a2a" stroke-width="1.1" />
<text transform="translate(415.10 83.08) scale(0.945 1)" font-size="13.4" font-weight="bold" text-anchor="end" fill="#000" stroke="#000" stroke-width="0.12" >80</text>
<line x1="417.75" y1="52.09" x2="418.95" y2="52.09" stroke="#2a2a2a" stroke-width="1.1" />
<line x1="416.85" y1="25.50" x2="418.95" y2="25.50" stroke="#2a2a2a" stroke-width="1.1" />
<text transform="translate(415.10 29.90) scale(0.945 1)" font-size="13.4" font-weight="bold" text-anchor="end" fill="#000" stroke="#000" stroke-width="0.12" >100</text>
<line x1="418.95" y1="291.40" x2="418.95" y2="293.50" stroke="#2a2a2a" stroke-width="1.1" />
<text transform="translate(418.95 306.30) scale(0.945 1)" font-size="13.4" font-weight="bold" text-anchor="middle" fill="#000" stroke="#000" stroke-width="0.12" >0</text>
<line x1="453.00" y1="291.40" x2="453.00" y2="292.60" stroke="#2a2a2a" stroke-width="1.1" />
<line x1="487.05" y1="291.40" x2="487.05" y2="293.50" stroke="#2a2a2a" stroke-width="1.1" />
<text transform="translate(487.05 306.30) scale(0.945 1)" font-size="13.4" font-weight="bold" text-anchor="middle" fill="#000" stroke="#000" stroke-width="0.12" >12</text>
<line x1="521.10" y1="291.40" x2="521.10" y2="292.60" stroke="#2a2a2a" stroke-width="1.1" />
<line x1="555.15" y1="291.40" x2="555.15" y2="293.50" stroke="#2a2a2a" stroke-width="1.1" />
<text transform="translate(555.15 306.30) scale(0.945 1)" font-size="13.4" font-weight="bold" text-anchor="middle" fill="#000" stroke="#000" stroke-width="0.12" >24</text>
<line x1="589.20" y1="291.40" x2="589.20" y2="292.60" stroke="#2a2a2a" stroke-width="1.1" />
<line x1="623.25" y1="291.40" x2="623.25" y2="293.50" stroke="#2a2a2a" stroke-width="1.1" />
<text transform="translate(623.25 306.30) scale(0.945 1)" font-size="13.4" font-weight="bold" text-anchor="middle" fill="#000" stroke="#000" stroke-width="0.12" >36</text>
<line x1="657.30" y1="291.40" x2="657.30" y2="292.60" stroke="#2a2a2a" stroke-width="1.1" />
<line x1="691.35" y1="291.40" x2="691.35" y2="293.50" stroke="#2a2a2a" stroke-width="1.1" />
<text transform="translate(691.35 306.30) scale(0.945 1)" font-size="13.4" font-weight="bold" text-anchor="middle" fill="#000" stroke="#000" stroke-width="0.12" >48</text>
<line x1="725.40" y1="291.40" x2="725.40" y2="292.60" stroke="#2a2a2a" stroke-width="1.1" />
<text transform="translate(390.50 159.30) rotate(-90)" font-size="13" font-weight="bold" text-anchor="middle" fill="#000" stroke="#000" stroke-width="0.12" textLength="121.40" lengthAdjust="spacingAndGlyphs" >Germination rate (%)</text>
<text transform="translate(572.20 326.90)" font-size="13" font-weight="bold" text-anchor="middle" fill="#000" stroke="#000" stroke-width="0.12" textLength="120.30" lengthAdjust="spacingAndGlyphs" >Germination time (h)</text>
<text transform="translate(426.50 20.90) scale(0.93 1)" font-size="17.0" font-weight="bold" text-anchor="start" fill="#000" stroke="#000" stroke-width="0.12" >B</text>
<line x1="426.80" y1="44.40" x2="438.60" y2="44.40" stroke="#3f3f3f" stroke-width="1.5" />
<rect x="430.00" y="41.70" width="5.40" height="5.40" fill="#3f3f3f" />
<text transform="translate(442.20 47.10)" font-size="13" font-weight="bold" text-anchor="start" fill="#000" stroke="#000" stroke-width="0.12" >Control</text>
<line x1="426.80" y1="60.70" x2="438.60" y2="60.70" stroke="#f4a79b" stroke-width="1.5" />
<circle cx="432.70" cy="60.70" r="2.70" fill="#f4a79b"/>
<text transform="translate(442.20 63.80)" font-size="13" font-weight="bold" text-anchor="start" fill="#000" stroke="#000" stroke-width="0.12" >10.3 %</text>
<line x1="426.80" y1="77.60" x2="438.60" y2="77.60" stroke="#f6a62c" stroke-width="1.5" />
<polygon points="432.70,74.63 435.81,79.89 429.59,79.89" fill="#f6a62c"/>
<text transform="translate(442.20 80.30)" font-size="13" font-weight="bold" text-anchor="start" fill="#000" stroke="#000" stroke-width="0.12" >12.1 %</text>
<line x1="426.80" y1="93.90" x2="438.60" y2="93.90" stroke="#62ade2" stroke-width="1.5" />
<polygon points="432.70,96.87 435.81,91.61 429.59,91.61" fill="#62ade2"/>
<text transform="translate(442.20 96.60)" font-size="13" font-weight="bold" text-anchor="start" fill="#000" stroke="#000" stroke-width="0.12" >14.2 %</text>
<line x1="426.80" y1="109.70" x2="438.60" y2="109.70" stroke="#7db986" stroke-width="1.5" />
<polygon points="432.70,106.46 435.94,109.70 432.70,112.94 429.46,109.70" fill="#7db986"/>
<text transform="translate(442.20 112.90)" font-size="13" font-weight="bold" text-anchor="start" fill="#000" stroke="#000" stroke-width="0.12" >16.2 %</text>
<line x1="58.10" y1="390.90" x2="58.10" y2="393.60" stroke="#f4a99b" stroke-width="0.9" />
<line x1="56.50" y1="390.90" x2="59.70" y2="390.90" stroke="#f4a99b" stroke-width="0.9" />
<rect x="51.30" y="393.60" width="13.60" height="227.40" fill="#f4a99b" />
<text transform="translate(58.10 387.80) scale(0.94 1)" font-size="12" font-weight="normal" text-anchor="middle" fill="#000" stroke="#000" stroke-width="0.12">a</text>
<line x1="74.00" y1="392.00" x2="74.00" y2="392.40" stroke="#f2b848" stroke-width="0.9" />
<line x1="72.40" y1="392.00" x2="75.60" y2="392.00" stroke="#f2b848" stroke-width="0.9" />
<rect x="67.20" y="392.40" width="13.60" height="228.60" fill="#f2b848" />
<text transform="translate(74.00 387.80) scale(0.94 1)" font-size="12" font-weight="normal" text-anchor="middle" fill="#000" stroke="#000" stroke-width="0.12">a</text>
<line x1="89.90" y1="392.40" x2="89.90" y2="401.90" stroke="#88b8e0" stroke-width="0.9" />
<line x1="88.30" y1="392.40" x2="91.50" y2="392.40" stroke="#88b8e0" stroke-width="0.9" />
<rect x="83.10" y="401.90" width="13.60" height="219.10" fill="#88b8e0" />
<text transform="translate(89.90 389.40) scale(0.94 1)" font-size="12" font-weight="normal" text-anchor="middle" fill="#000" stroke="#000" stroke-width="0.12">ab</text>
<line x1="105.80" y1="393.60" x2="105.80" y2="403.10" stroke="#88b88e" stroke-width="0.9" />
<line x1="104.20" y1="393.60" x2="107.40" y2="393.60" stroke="#88b88e" stroke-width="0.9" />
<rect x="99.00" y="403.10" width="13.60" height="217.90" fill="#88b88e" />
<text transform="translate(105.80 389.40) scale(0.94 1)" font-size="12" font-weight="normal" text-anchor="middle" fill="#000" stroke="#000" stroke-width="0.12">ab</text>
<line x1="134.40" y1="414.10" x2="134.40" y2="419.60" stroke="#f4a99b" stroke-width="0.9" />
<line x1="132.80" y1="414.10" x2="136.00" y2="414.10" stroke="#f4a99b" stroke-width="0.9" />
<rect x="127.60" y="419.60" width="13.60" height="201.40" fill="#f4a99b" />
<text transform="translate(134.40 411.40) scale(0.94 1)" font-size="12" font-weight="normal" text-anchor="middle" fill="#000" stroke="#000" stroke-width="0.12">abc</text>
<line x1="150.30" y1="426.60" x2="150.30" y2="430.90" stroke="#f2b848" stroke-width="0.9" />
<line x1="148.70" y1="426.60" x2="151.90" y2="426.60" stroke="#f2b848" stroke-width="0.9" />
<rect x="143.50" y="430.90" width="13.60" height="190.10" fill="#f2b848" />
<text transform="translate(150.30 422.90) scale(0.94 1)" font-size="12" font-weight="normal" text-anchor="middle" fill="#000" stroke="#000" stroke-width="0.12">bc</text>
<line x1="166.20" y1="432.00" x2="166.20" y2="440.60" stroke="#88b8e0" stroke-width="0.9" />
<line x1="164.60" y1="432.00" x2="167.80" y2="432.00" stroke="#88b8e0" stroke-width="0.9" />
<rect x="159.40" y="440.60" width="13.60" height="180.40" fill="#88b8e0" />
<text transform="translate(166.20 428.50) scale(0.94 1)" font-size="12" font-weight="normal" text-anchor="middle" fill="#000" stroke="#000" stroke-width="0.12">c</text>
<line x1="182.10" y1="441.70" x2="182.10" y2="444.90" stroke="#88b88e" stroke-width="0.9" />
<line x1="180.50" y1="441.70" x2="183.70" y2="441.70" stroke="#88b88e" stroke-width="0.9" />
<rect x="175.30" y="444.90" width="13.60" height="176.10" fill="#88b88e" />
<text transform="translate(182.10 438.50) scale(0.94 1)" font-size="12" font-weight="normal" text-anchor="middle" fill="#000" stroke="#000" stroke-width="0.12">c</text>
<line x1="210.70" y1="425.40" x2="210.70" y2="430.80" stroke="#f4a99b" stroke-width="0.9" />
<line x1="209.10" y1="425.40" x2="212.30" y2="425.40" stroke="#f4a99b" stroke-width="0.9" />
<rect x="203.90" y="430.80" width="13.60" height="190.20" fill="#f4a99b" />
<text transform="translate(210.70 422.70) scale(0.94 1)" font-size="12" font-weight="normal" text-anchor="middle" fill="#000" stroke="#000" stroke-width="0.12">bc</text>
<line x1="226.60" y1="430.60" x2="226.60" y2="441.80" stroke="#f2b848" stroke-width="0.9" />
<line x1="225.00" y1="430.60" x2="228.20" y2="430.60" stroke="#f2b848" stroke-width="0.9" />
<rect x="219.80" y="441.80" width="13.60" height="179.20" fill="#f2b848" />
<text transform="translate(226.60 427.00) scale(0.94 1)" font-size="12" font-weight="normal" text-anchor="middle" fill="#000" stroke="#000" stroke-width="0.12">c</text>
<line x1="242.50" y1="469.20" x2="242.50" y2="474.80" stroke="#88b8e0" stroke-width="0.9" />
<line x1="240.90" y1="469.20" x2="244.10" y2="469.20" stroke="#88b8e0" stroke-width="0.9" />
<rect x="235.70" y="474.80" width="13.60" height="146.20" fill="#88b8e0" />
<text transform="translate(242.50 466.20) scale(0.94 1)" font-size="12" font-weight="normal" text-anchor="middle" fill="#000" stroke="#000" stroke-width="0.12">de</text>
<line x1="258.40" y1="483.00" x2="258.40" y2="487.10" stroke="#88b88e" stroke-width="0.9" />
<line x1="256.80" y1="483.00" x2="260.00" y2="483.00" stroke="#88b88e" stroke-width="0.9" />
<rect x="251.60" y="487.10" width="13.60" height="133.90" fill="#88b88e" />
<text transform="translate(258.40 480.70) scale(0.94 1)" font-size="12" font-weight="normal" text-anchor="middle" fill="#000" stroke="#000" stroke-width="0.12">e</text>
<line x1="287.00" y1="432.00" x2="287.00" y2="445.80" stroke="#f4a99b" stroke-width="0.9" />
<line x1="285.40" y1="432.00" x2="288.60" y2="432.00" stroke="#f4a99b" stroke-width="0.9" />
<rect x="280.20" y="445.80" width="13.60" height="175.20" fill="#f4a99b" />
<text transform="translate(287.00 428.70) scale(0.94 1)" font-size="12" font-weight="normal" text-anchor="middle" fill="#000" stroke="#000" stroke-width="0.12">c</text>
<line x1="302.90" y1="434.10" x2="302.90" y2="446.50" stroke="#f2b848" stroke-width="0.9" />
<line x1="301.30" y1="434.10" x2="304.50" y2="434.10" stroke="#f2b848" stroke-width="0.9" />
<rect x="296.10" y="446.50" width="13.60" height="174.50" fill="#f2b848" />
<text transform="translate(302.90 431.00) scale(0.94 1)" font-size="12" font-weight="normal" text-anchor="middle" fill="#000" stroke="#000" stroke-width="0.12">cd</text>
<line x1="318.80" y1="483.60" x2="318.80" y2="489.70" stroke="#88b8e0" stroke-width="0.9" />
<line x1="317.20" y1="483.60" x2="320.40" y2="483.60" stroke="#88b8e0" stroke-width="0.9" />
<rect x="312.00" y="489.70" width="13.60" height="131.30" fill="#88b8e0" />
<text transform="translate(318.80 480.70) scale(0.94 1)" font-size="12" font-weight="normal" text-anchor="middle" fill="#000" stroke="#000" stroke-width="0.12">e</text>
<line x1="334.70" y1="494.80" x2="334.70" y2="498.00" stroke="#88b88e" stroke-width="0.9" />
<line x1="333.10" y1="494.80" x2="336.30" y2="494.80" stroke="#88b88e" stroke-width="0.9" />
<rect x="327.90" y="498.00" width="13.60" height="123.00" fill="#88b88e" />
<text transform="translate(334.70 492.30) scale(0.94 1)" font-size="12" font-weight="normal" text-anchor="middle" fill="#000" stroke="#000" stroke-width="0.12">e</text>
<line x1="43.30" y1="356.72" x2="43.30" y2="621.70" stroke="#2a2a2a" stroke-width="1.45" />
<line x1="43.30" y1="621.00" x2="349.80" y2="621.00" stroke="#2a2a2a" stroke-width="1.45" />
<line x1="41.20" y1="621.00" x2="43.30" y2="621.00" stroke="#2a2a2a" stroke-width="1.1" />
<text transform="translate(40.10 625.00) scale(0.945 1)" font-size="13.4" font-weight="bold" text-anchor="end" fill="#000" stroke="#000" stroke-width="0.12" >0</text>
<line x1="42.10" y1="597.02" x2="43.30" y2="597.02" stroke="#2a2a2a" stroke-width="1.1" />
<line x1="41.20" y1="573.04" x2="43.30" y2="573.04" stroke="#2a2a2a" stroke-width="1.1" />
<text transform="translate(40.10 577.04) scale(0.945 1)" font-size="13.4" font-weight="bold" text-anchor="end" fill="#000" stroke="#000" stroke-width="0.12" >20</text>
<line x1="42.10" y1="549.06" x2="43.30" y2="549.06" stroke="#2a2a2a" stroke-width="1.1" />
<line x1="41.20" y1="525.08" x2="43.30" y2="525.08" stroke="#2a2a2a" stroke-width="1.1" />
<text transform="translate(40.10 529.08) scale(0.945 1)" font-size="13.4" font-weight="bold" text-anchor="end" fill="#000" stroke="#000" stroke-width="0.12" >40</text>
<line x1="42.10" y1="501.10" x2="43.30" y2="501.10" stroke="#2a2a2a" stroke-width="1.1" />
<line x1="41.20" y1="477.12" x2="43.30" y2="477.12" stroke="#2a2a2a" stroke-width="1.1" />
<text transform="translate(40.10 481.12) scale(0.945 1)" font-size="13.4" font-weight="bold" text-anchor="end" fill="#000" stroke="#000" stroke-width="0.12" >60</text>
<line x1="42.10" y1="453.14" x2="43.30" y2="453.14" stroke="#2a2a2a" stroke-width="1.1" />
<line x1="41.20" y1="429.16" x2="43.30" y2="429.16" stroke="#2a2a2a" stroke-width="1.1" />
<text transform="translate(40.10 433.16) scale(0.945 1)" font-size="13.4" font-weight="bold" text-anchor="end" fill="#000" stroke="#000" stroke-width="0.12" >80</text>
<line x1="42.10" y1="405.18" x2="43.30" y2="405.18" stroke="#2a2a2a" stroke-width="1.1" />
<line x1="41.20" y1="381.20" x2="43.30" y2="381.20" stroke="#2a2a2a" stroke-width="1.1" />
<text transform="translate(40.10 385.20) scale(0.945 1)" font-size="13.4" font-weight="bold" text-anchor="end" fill="#000" stroke="#000" stroke-width="0.12" >100</text>
<line x1="42.10" y1="357.22" x2="43.30" y2="357.22" stroke="#2a2a2a" stroke-width="1.1" />
<line x1="82.00" y1="621.00" x2="82.00" y2="623.10" stroke="#2a2a2a" stroke-width="1.1" />
<text transform="translate(82.00 635.00) scale(0.945 1)" font-size="13.4" font-weight="bold" text-anchor="middle" fill="#000" stroke="#000" stroke-width="0.12" >0</text>
<line x1="158.30" y1="621.00" x2="158.30" y2="623.10" stroke="#2a2a2a" stroke-width="1.1" />
<text transform="translate(158.30 635.00) scale(0.945 1)" font-size="13.4" font-weight="bold" text-anchor="middle" fill="#000" stroke="#000" stroke-width="0.12" >10</text>
<line x1="234.60" y1="621.00" x2="234.60" y2="623.10" stroke="#2a2a2a" stroke-width="1.1" />
<text transform="translate(234.60 635.00) scale(0.945 1)" font-size="13.4" font-weight="bold" text-anchor="middle" fill="#000" stroke="#000" stroke-width="0.12" >20</text>
<line x1="310.90" y1="621.00" x2="310.90" y2="623.10" stroke="#2a2a2a" stroke-width="1.1" />
<text transform="translate(310.90 635.00) scale(0.945 1)" font-size="13.4" font-weight="bold" text-anchor="middle" fill="#000" stroke="#000" stroke-width="0.12" >30</text>
<line x1="120.15" y1="621.00" x2="120.15" y2="622.20" stroke="#2a2a2a" stroke-width="1.1" />
<line x1="196.45" y1="621.00" x2="196.45" y2="622.20" stroke="#2a2a2a" stroke-width="1.1" />
<line x1="272.75" y1="621.00" x2="272.75" y2="622.20" stroke="#2a2a2a" stroke-width="1.1" />
<line x1="349.05" y1="621.00" x2="349.05" y2="622.20" stroke="#2a2a2a" stroke-width="1.1" />
<text transform="translate(17.80 488.80) rotate(-90)" font-size="13" font-weight="bold" text-anchor="middle" fill="#000" stroke="#000" stroke-width="0.12" textLength="119.80" lengthAdjust="spacingAndGlyphs" >Germination rate (%)</text>
<text transform="translate(53.30 363.50)" font-size="16.2" font-weight="bold" text-anchor="start" fill="#000" stroke="#000" stroke-width="0.12" >C</text>
<text transform="translate(124.80 650.30)" font-size="13.8" font-weight="bold" text-anchor="start" fill="#000" stroke="#000" stroke-width="0.12" textLength="93.00" lengthAdjust="spacingAndGlyphs" >Treatment time</text>
<text transform="translate(232.30 650.30)" font-size="13.8" font-weight="bold" text-anchor="start" fill="#000" stroke="#000" stroke-width="0.12" textLength="22.90" lengthAdjust="spacingAndGlyphs" >min</text>
<path d="M229.30,642.00 A4.95,4.95 0 0 0 229.30,651.40" fill="none" stroke="#000" stroke-width="1.15"/>
<path d="M257.20,642.00 A4.95,4.95 0 0 1 257.20,651.40" fill="none" stroke="#000" stroke-width="1.15"/>
<rect x="284.70" y="354.70" width="11.70" height="5.60" fill="#f4a99b" />
<text transform="translate(300.20 359.90)" font-size="12.6" font-weight="bold" text-anchor="start" fill="#000" stroke="#000" stroke-width="0.12" textLength="37.70" lengthAdjust="spacingAndGlyphs" >10.3 %</text>
<rect x="284.70" y="370.70" width="11.70" height="5.60" fill="#f2b848" />
<text transform="translate(300.20 375.80)" font-size="12.6" font-weight="bold" text-anchor="start" fill="#000" stroke="#000" stroke-width="0.12" textLength="34.50" lengthAdjust="spacingAndGlyphs" >12.1%</text>
<rect x="284.70" y="386.70" width="11.70" height="5.60" fill="#88b8e0" />
<text transform="translate(300.20 391.70)" font-size="12.6" font-weight="bold" text-anchor="start" fill="#000" stroke="#000" stroke-width="0.12" textLength="37.70" lengthAdjust="spacingAndGlyphs" >14.2 %</text>
<rect x="284.70" y="402.70" width="11.70" height="5.60" fill="#88b88e" />
<text transform="translate(300.20 407.60)" font-size="12.6" font-weight="bold" text-anchor="start" fill="#000" stroke="#000" stroke-width="0.12" textLength="37.70" lengthAdjust="spacingAndGlyphs" >16.2 %</text>
<line x1="434.43" y1="388.10" x2="434.43" y2="389.10" stroke="#f4a99b" stroke-width="0.9" />
<line x1="432.82" y1="388.10" x2="436.03" y2="388.10" stroke="#f4a99b" stroke-width="0.9" />
<rect x="428.95" y="389.10" width="10.95" height="231.90" fill="#f4a99b" />
<text transform="translate(434.43 384.50) scale(0.94 1)" font-size="12" font-weight="normal" text-anchor="middle" fill="#000" stroke="#000" stroke-width="0.12">a</text>
<line x1="447.28" y1="389.10" x2="447.28" y2="390.50" stroke="#f2b848" stroke-width="0.9" />
<line x1="445.68" y1="389.10" x2="448.88" y2="389.10" stroke="#f2b848" stroke-width="0.9" />
<rect x="441.80" y="390.50" width="10.95" height="230.50" fill="#f2b848" />
<text transform="translate(447.28 385.40) scale(0.94 1)" font-size="12" font-weight="normal" text-anchor="middle" fill="#000" stroke="#000" stroke-width="0.12">a</text>
<line x1="460.12" y1="392.70" x2="460.12" y2="402.70" stroke="#88b8e0" stroke-width="0.9" />
<line x1="458.52" y1="392.70" x2="461.73" y2="392.70" stroke="#88b8e0" stroke-width="0.9" />
<rect x="454.65" y="402.70" width="10.95" height="218.30" fill="#88b8e0" />
<text transform="translate(460.12 389.20) scale(0.94 1)" font-size="12" font-weight="normal" text-anchor="middle" fill="#000" stroke="#000" stroke-width="0.12">a</text>
<line x1="472.98" y1="431.00" x2="472.98" y2="446.70" stroke="#88b88e" stroke-width="0.9" />
<line x1="471.38" y1="431.00" x2="474.58" y2="431.00" stroke="#88b88e" stroke-width="0.9" />
<rect x="467.50" y="446.70" width="10.95" height="174.30" fill="#88b88e" />
<text transform="translate(472.98 427.50) scale(0.94 1)" font-size="12" font-weight="normal" text-anchor="middle" fill="#000" stroke="#000" stroke-width="0.12">b</text>
<line x1="485.82" y1="496.60" x2="485.82" y2="506.20" stroke="#b9aeca" stroke-width="0.9" />
<line x1="484.22" y1="496.60" x2="487.43" y2="496.60" stroke="#b9aeca" stroke-width="0.9" />
<rect x="480.35" y="506.20" width="10.95" height="114.80" fill="#b9aeca" />
<text transform="translate(485.82 493.90) scale(0.94 1)" font-size="12" font-weight="normal" text-anchor="middle" fill="#000" stroke="#000" stroke-width="0.12">d</text>
<line x1="512.17" y1="390.70" x2="512.17" y2="393.90" stroke="#f4a99b" stroke-width="0.9" />
<line x1="510.57" y1="390.70" x2="513.77" y2="390.70" stroke="#f4a99b" stroke-width="0.9" />
<rect x="506.70" y="393.90" width="10.95" height="227.10" fill="#f4a99b" />
<text transform="translate(512.17 387.10) scale(0.94 1)" font-size="12" font-weight="normal" text-anchor="middle" fill="#000" stroke="#000" stroke-width="0.12">a</text>
<line x1="525.02" y1="395.30" x2="525.02" y2="398.60" stroke="#f2b848" stroke-width="0.9" />
<line x1="523.42" y1="395.30" x2="526.62" y2="395.30" stroke="#f2b848" stroke-width="0.9" />
<rect x="519.55" y="398.60" width="10.95" height="222.40" fill="#f2b848" />
<text transform="translate(525.02 392.10) scale(0.94 1)" font-size="12" font-weight="normal" text-anchor="middle" fill="#000" stroke="#000" stroke-width="0.12">a</text>
<line x1="537.88" y1="432.60" x2="537.88" y2="441.20" stroke="#88b8e0" stroke-width="0.9" />
<line x1="536.27" y1="432.60" x2="539.48" y2="432.60" stroke="#88b8e0" stroke-width="0.9" />
<rect x="532.40" y="441.20" width="10.95" height="179.80" fill="#88b8e0" />
<text transform="translate(537.88 429.00) scale(0.94 1)" font-size="12" font-weight="normal" text-anchor="middle" fill="#000" stroke="#000" stroke-width="0.12">b</text>
<line x1="550.73" y1="508.70" x2="550.73" y2="514.00" stroke="#88b88e" stroke-width="0.9" />
<line x1="549.12" y1="508.70" x2="552.33" y2="508.70" stroke="#88b88e" stroke-width="0.9" />
<rect x="545.25" y="514.00" width="10.95" height="107.00" fill="#88b88e" />
<text transform="translate(550.73 505.90) scale(0.94 1)" font-size="12" font-weight="normal" text-anchor="middle" fill="#000" stroke="#000" stroke-width="0.12">de</text>
<line x1="563.58" y1="534.80" x2="563.58" y2="544.20" stroke="#b9aeca" stroke-width="0.9" />
<line x1="561.98" y1="534.80" x2="565.18" y2="534.80" stroke="#b9aeca" stroke-width="0.9" />
<rect x="558.10" y="544.20" width="10.95" height="76.80" fill="#b9aeca" />
<text transform="translate(563.58 531.70) scale(0.94 1)" font-size="12" font-weight="normal" text-anchor="middle" fill="#000" stroke="#000" stroke-width="0.12">fg</text>
<line x1="589.93" y1="391.90" x2="589.93" y2="394.60" stroke="#f4a99b" stroke-width="0.9" />
<line x1="588.33" y1="391.90" x2="591.53" y2="391.90" stroke="#f4a99b" stroke-width="0.9" />
<rect x="584.45" y="394.60" width="10.95" height="226.40" fill="#f4a99b" />
<text transform="translate(589.93 388.30) scale(0.94 1)" font-size="12" font-weight="normal" text-anchor="middle" fill="#000" stroke="#000" stroke-width="0.12">a</text>
<line x1="602.78" y1="398.40" x2="602.78" y2="399.80" stroke="#f2b848" stroke-width="0.9" />
<line x1="601.18" y1="398.40" x2="604.38" y2="398.40" stroke="#f2b848" stroke-width="0.9" />
<rect x="597.30" y="399.80" width="10.95" height="221.20" fill="#f2b848" />
<text transform="translate(602.78 395.20) scale(0.94 1)" font-size="12" font-weight="normal" text-anchor="middle" fill="#000" stroke="#000" stroke-width="0.12">a</text>
<line x1="615.63" y1="469.70" x2="615.63" y2="475.20" stroke="#88b8e0" stroke-width="0.9" />
<line x1="614.03" y1="469.70" x2="617.23" y2="469.70" stroke="#88b8e0" stroke-width="0.9" />
<rect x="610.15" y="475.20" width="10.95" height="145.80" fill="#88b8e0" />
<text transform="translate(615.63 466.60) scale(0.94 1)" font-size="12" font-weight="normal" text-anchor="middle" fill="#000" stroke="#000" stroke-width="0.12">c</text>
<line x1="628.48" y1="532.30" x2="628.48" y2="537.50" stroke="#88b88e" stroke-width="0.9" />
<line x1="626.88" y1="532.30" x2="630.08" y2="532.30" stroke="#88b88e" stroke-width="0.9" />
<rect x="623.00" y="537.50" width="10.95" height="83.50" fill="#88b88e" />
<text transform="translate(628.48 529.10) scale(0.94 1)" font-size="12" font-weight="normal" text-anchor="middle" fill="#000" stroke="#000" stroke-width="0.12">ef</text>
<line x1="641.33" y1="566.50" x2="641.33" y2="570.00" stroke="#b9aeca" stroke-width="0.9" />
<line x1="639.73" y1="566.50" x2="642.93" y2="566.50" stroke="#b9aeca" stroke-width="0.9" />
<rect x="635.85" y="570.00" width="10.95" height="51.00" fill="#b9aeca" />
<text transform="translate(641.33 563.30) scale(0.94 1)" font-size="12" font-weight="normal" text-anchor="middle" fill="#000" stroke="#000" stroke-width="0.12">gh</text>
<line x1="667.68" y1="393.60" x2="667.68" y2="396.20" stroke="#f4a99b" stroke-width="0.9" />
<line x1="666.08" y1="393.60" x2="669.28" y2="393.60" stroke="#f4a99b" stroke-width="0.9" />
<rect x="662.20" y="396.20" width="10.95" height="224.80" fill="#f4a99b" />
<text transform="translate(667.68 390.40) scale(0.94 1)" font-size="12" font-weight="normal" text-anchor="middle" fill="#000" stroke="#000" stroke-width="0.12">a</text>
<line x1="680.53" y1="398.60" x2="680.53" y2="403.40" stroke="#f2b848" stroke-width="0.9" />
<line x1="678.93" y1="398.60" x2="682.13" y2="398.60" stroke="#f2b848" stroke-width="0.9" />
<rect x="675.05" y="403.40" width="10.95" height="217.60" fill="#f2b848" />
<text transform="translate(680.53 395.50) scale(0.94 1)" font-size="12" font-weight="normal" text-anchor="middle" fill="#000" stroke="#000" stroke-width="0.12">a</text>
<line x1="693.38" y1="484.10" x2="693.38" y2="489.70" stroke="#88b8e0" stroke-width="0.9" />
<line x1="691.78" y1="484.10" x2="694.98" y2="484.10" stroke="#88b8e0" stroke-width="0.9" />
<rect x="687.90" y="489.70" width="10.95" height="131.30" fill="#88b8e0" />
<text transform="translate(693.38 481.10) scale(0.94 1)" font-size="12" font-weight="normal" text-anchor="middle" fill="#000" stroke="#000" stroke-width="0.12">cd</text>
<line x1="706.23" y1="562.70" x2="706.23" y2="563.30" stroke="#88b88e" stroke-width="0.9" />
<line x1="704.62" y1="562.70" x2="707.83" y2="562.70" stroke="#88b88e" stroke-width="0.9" />
<rect x="700.75" y="563.30" width="10.95" height="57.70" fill="#88b88e" />
<text transform="translate(706.23 559.00) scale(0.94 1)" font-size="12" font-weight="normal" text-anchor="middle" fill="#000" stroke="#000" stroke-width="0.12">gh</text>
<line x1="719.08" y1="579.30" x2="719.08" y2="587.40" stroke="#b9aeca" stroke-width="0.9" />
<line x1="717.48" y1="579.30" x2="720.68" y2="579.30" stroke="#b9aeca" stroke-width="0.9" />
<rect x="713.60" y="587.40" width="10.95" height="33.60" fill="#b9aeca" />
<text transform="translate(719.08 576.10) scale(0.94 1)" font-size="12" font-weight="normal" text-anchor="middle" fill="#000" stroke="#000" stroke-width="0.12">h</text>
<line x1="421.40" y1="356.72" x2="421.40" y2="621.70" stroke="#2a2a2a" stroke-width="1.45" />
<line x1="421.40" y1="621.00" x2="732.90" y2="621.00" stroke="#2a2a2a" stroke-width="1.45" />
<line x1="419.30" y1="621.00" x2="421.40" y2="621.00" stroke="#2a2a2a" stroke-width="1.1" />
<text transform="translate(417.90 625.00) scale(0.945 1)" font-size="13.4" font-weight="bold" text-anchor="end" fill="#000" stroke="#000" stroke-width="0.12" >0</text>
<line x1="420.20" y1="597.02" x2="421.40" y2="597.02" stroke="#2a2a2a" stroke-width="1.1" />
<line x1="419.30" y1="573.04" x2="421.40" y2="573.04" stroke="#2a2a2a" stroke-width="1.1" />
<text transform="translate(417.90 577.04) scale(0.945 1)" font-size="13.4" font-weight="bold" text-anchor="end" fill="#000" stroke="#000" stroke-width="0.12" >20</text>
<line x1="420.20" y1="549.06" x2="421.40" y2="549.06" stroke="#2a2a2a" stroke-width="1.1" />
<line x1="419.30" y1="525.08" x2="421.40" y2="525.08" stroke="#2a2a2a" stroke-width="1.1" />
<text transform="translate(417.90 529.08) scale(0.945 1)" font-size="13.4" font-weight="bold" text-anchor="end" fill="#000" stroke="#000" stroke-width="0.12" >40</text>
<line x1="420.20" y1="501.10" x2="421.40" y2="501.10" stroke="#2a2a2a" stroke-width="1.1" />
<line x1="419.30" y1="477.12" x2="421.40" y2="477.12" stroke="#2a2a2a" stroke-width="1.1" />
<text transform="translate(417.90 481.12) scale(0.945 1)" font-size="13.4" font-weight="bold" text-anchor="end" fill="#000" stroke="#000" stroke-width="0.12" >60</text>
<line x1="420.20" y1="453.14" x2="421.40" y2="453.14" stroke="#2a2a2a" stroke-width="1.1" />
<line x1="419.30" y1="429.16" x2="421.40" y2="429.16" stroke="#2a2a2a" stroke-width="1.1" />
<text transform="translate(417.90 433.16) scale(0.945 1)" font-size="13.4" font-weight="bold" text-anchor="end" fill="#000" stroke="#000" stroke-width="0.12" >80</text>
<line x1="420.20" y1="405.18" x2="421.40" y2="405.18" stroke="#2a2a2a" stroke-width="1.1" />
<line x1="419.30" y1="381.20" x2="421.40" y2="381.20" stroke="#2a2a2a" stroke-width="1.1" />
<text transform="translate(417.90 385.20) scale(0.945 1)" font-size="13.4" font-weight="bold" text-anchor="end" fill="#000" stroke="#000" stroke-width="0.12" >100</text>
<line x1="420.20" y1="357.22" x2="421.40" y2="357.22" stroke="#2a2a2a" stroke-width="1.1" />
<line x1="460.20" y1="621.00" x2="460.20" y2="623.10" stroke="#2a2a2a" stroke-width="1.1" />
<text transform="translate(460.20 635.00) scale(0.945 1)" font-size="13.4" font-weight="bold" text-anchor="middle" fill="#000" stroke="#000" stroke-width="0.12" >0</text>
<line x1="537.95" y1="621.00" x2="537.95" y2="623.10" stroke="#2a2a2a" stroke-width="1.1" />
<text transform="translate(537.95 635.00) scale(0.945 1)" font-size="13.4" font-weight="bold" text-anchor="middle" fill="#000" stroke="#000" stroke-width="0.12" >10</text>
<line x1="615.70" y1="621.00" x2="615.70" y2="623.10" stroke="#2a2a2a" stroke-width="1.1" />
<text transform="translate(615.70 635.00) scale(0.945 1)" font-size="13.4" font-weight="bold" text-anchor="middle" fill="#000" stroke="#000" stroke-width="0.12" >20</text>
<line x1="693.45" y1="621.00" x2="693.45" y2="623.10" stroke="#2a2a2a" stroke-width="1.1" />
<text transform="translate(693.45 635.00) scale(0.945 1)" font-size="13.4" font-weight="bold" text-anchor="middle" fill="#000" stroke="#000" stroke-width="0.12" >30</text>
<line x1="499.07" y1="621.00" x2="499.07" y2="622.20" stroke="#2a2a2a" stroke-width="1.1" />
<line x1="576.83" y1="621.00" x2="576.83" y2="622.20" stroke="#2a2a2a" stroke-width="1.1" />
<line x1="654.58" y1="621.00" x2="654.58" y2="622.20" stroke="#2a2a2a" stroke-width="1.1" />
<text transform="translate(395.00 488.60) rotate(-90)" font-size="13" font-weight="bold" text-anchor="middle" fill="#000" stroke="#000" stroke-width="0.12" textLength="120.30" lengthAdjust="spacingAndGlyphs" >Germination rate (%)</text>
<text transform="translate(430.20 361.90)" font-size="16.3" font-weight="bold" text-anchor="start" fill="#000" stroke="#000" stroke-width="0.12" >D</text>
<text transform="translate(505.60 655.00)" font-size="13.8" font-weight="bold" text-anchor="start" fill="#000" stroke="#000" stroke-width="0.12" textLength="93.00" lengthAdjust="spacingAndGlyphs" >Treatment time</text>
<text transform="translate(613.10 655.00)" font-size="13.8" font-weight="bold" text-anchor="start" fill="#000" stroke="#000" stroke-width="0.12" textLength="22.90" lengthAdjust="spacingAndGlyphs" >min</text>
<path d="M610.10,646.70 A4.95,4.95 0 0 0 610.10,656.10" fill="none" stroke="#000" stroke-width="1.15"/>
<path d="M638.00,646.70 A4.95,4.95 0 0 1 638.00,656.10" fill="none" stroke="#000" stroke-width="1.15"/>
<rect x="698.90" y="350.30" width="15.40" height="10.30" fill="#f4a99b" />
<text transform="translate(722.80 359.90)" font-size="11.5" font-weight="bold" text-anchor="start" fill="#000" stroke="#000" stroke-width="0.12" textLength="26.30" lengthAdjust="spacingAndGlyphs" >60 ºC</text>
<rect x="698.90" y="366.30" width="15.40" height="10.30" fill="#f2b848" />
<text transform="translate(722.80 375.90)" font-size="11.5" font-weight="bold" text-anchor="start" fill="#000" stroke="#000" stroke-width="0.12" textLength="26.30" lengthAdjust="spacingAndGlyphs" >65 ºC</text>
<rect x="698.90" y="382.30" width="15.40" height="10.30" fill="#88b8e0" />
<text transform="translate(722.80 391.90)" font-size="11.5" font-weight="bold" text-anchor="start" fill="#000" stroke="#000" stroke-width="0.12" textLength="26.30" lengthAdjust="spacingAndGlyphs" >70 ºC</text>
<rect x="698.90" y="398.30" width="15.40" height="10.30" fill="#88b88e" />
<text transform="translate(722.80 407.90)" font-size="11.5" font-weight="bold" text-anchor="start" fill="#000" stroke="#000" stroke-width="0.12" textLength="26.30" lengthAdjust="spacingAndGlyphs" >75 ºC</text>
<rect x="698.90" y="414.30" width="15.40" height="10.30" fill="#b9aeca" />
<text transform="translate(722.80 423.90)" font-size="11.5" font-weight="bold" text-anchor="start" fill="#000" stroke="#000" stroke-width="0.12" textLength="26.30" lengthAdjust="spacingAndGlyphs" >80 ºC</text>
</svg>
</body></html>
